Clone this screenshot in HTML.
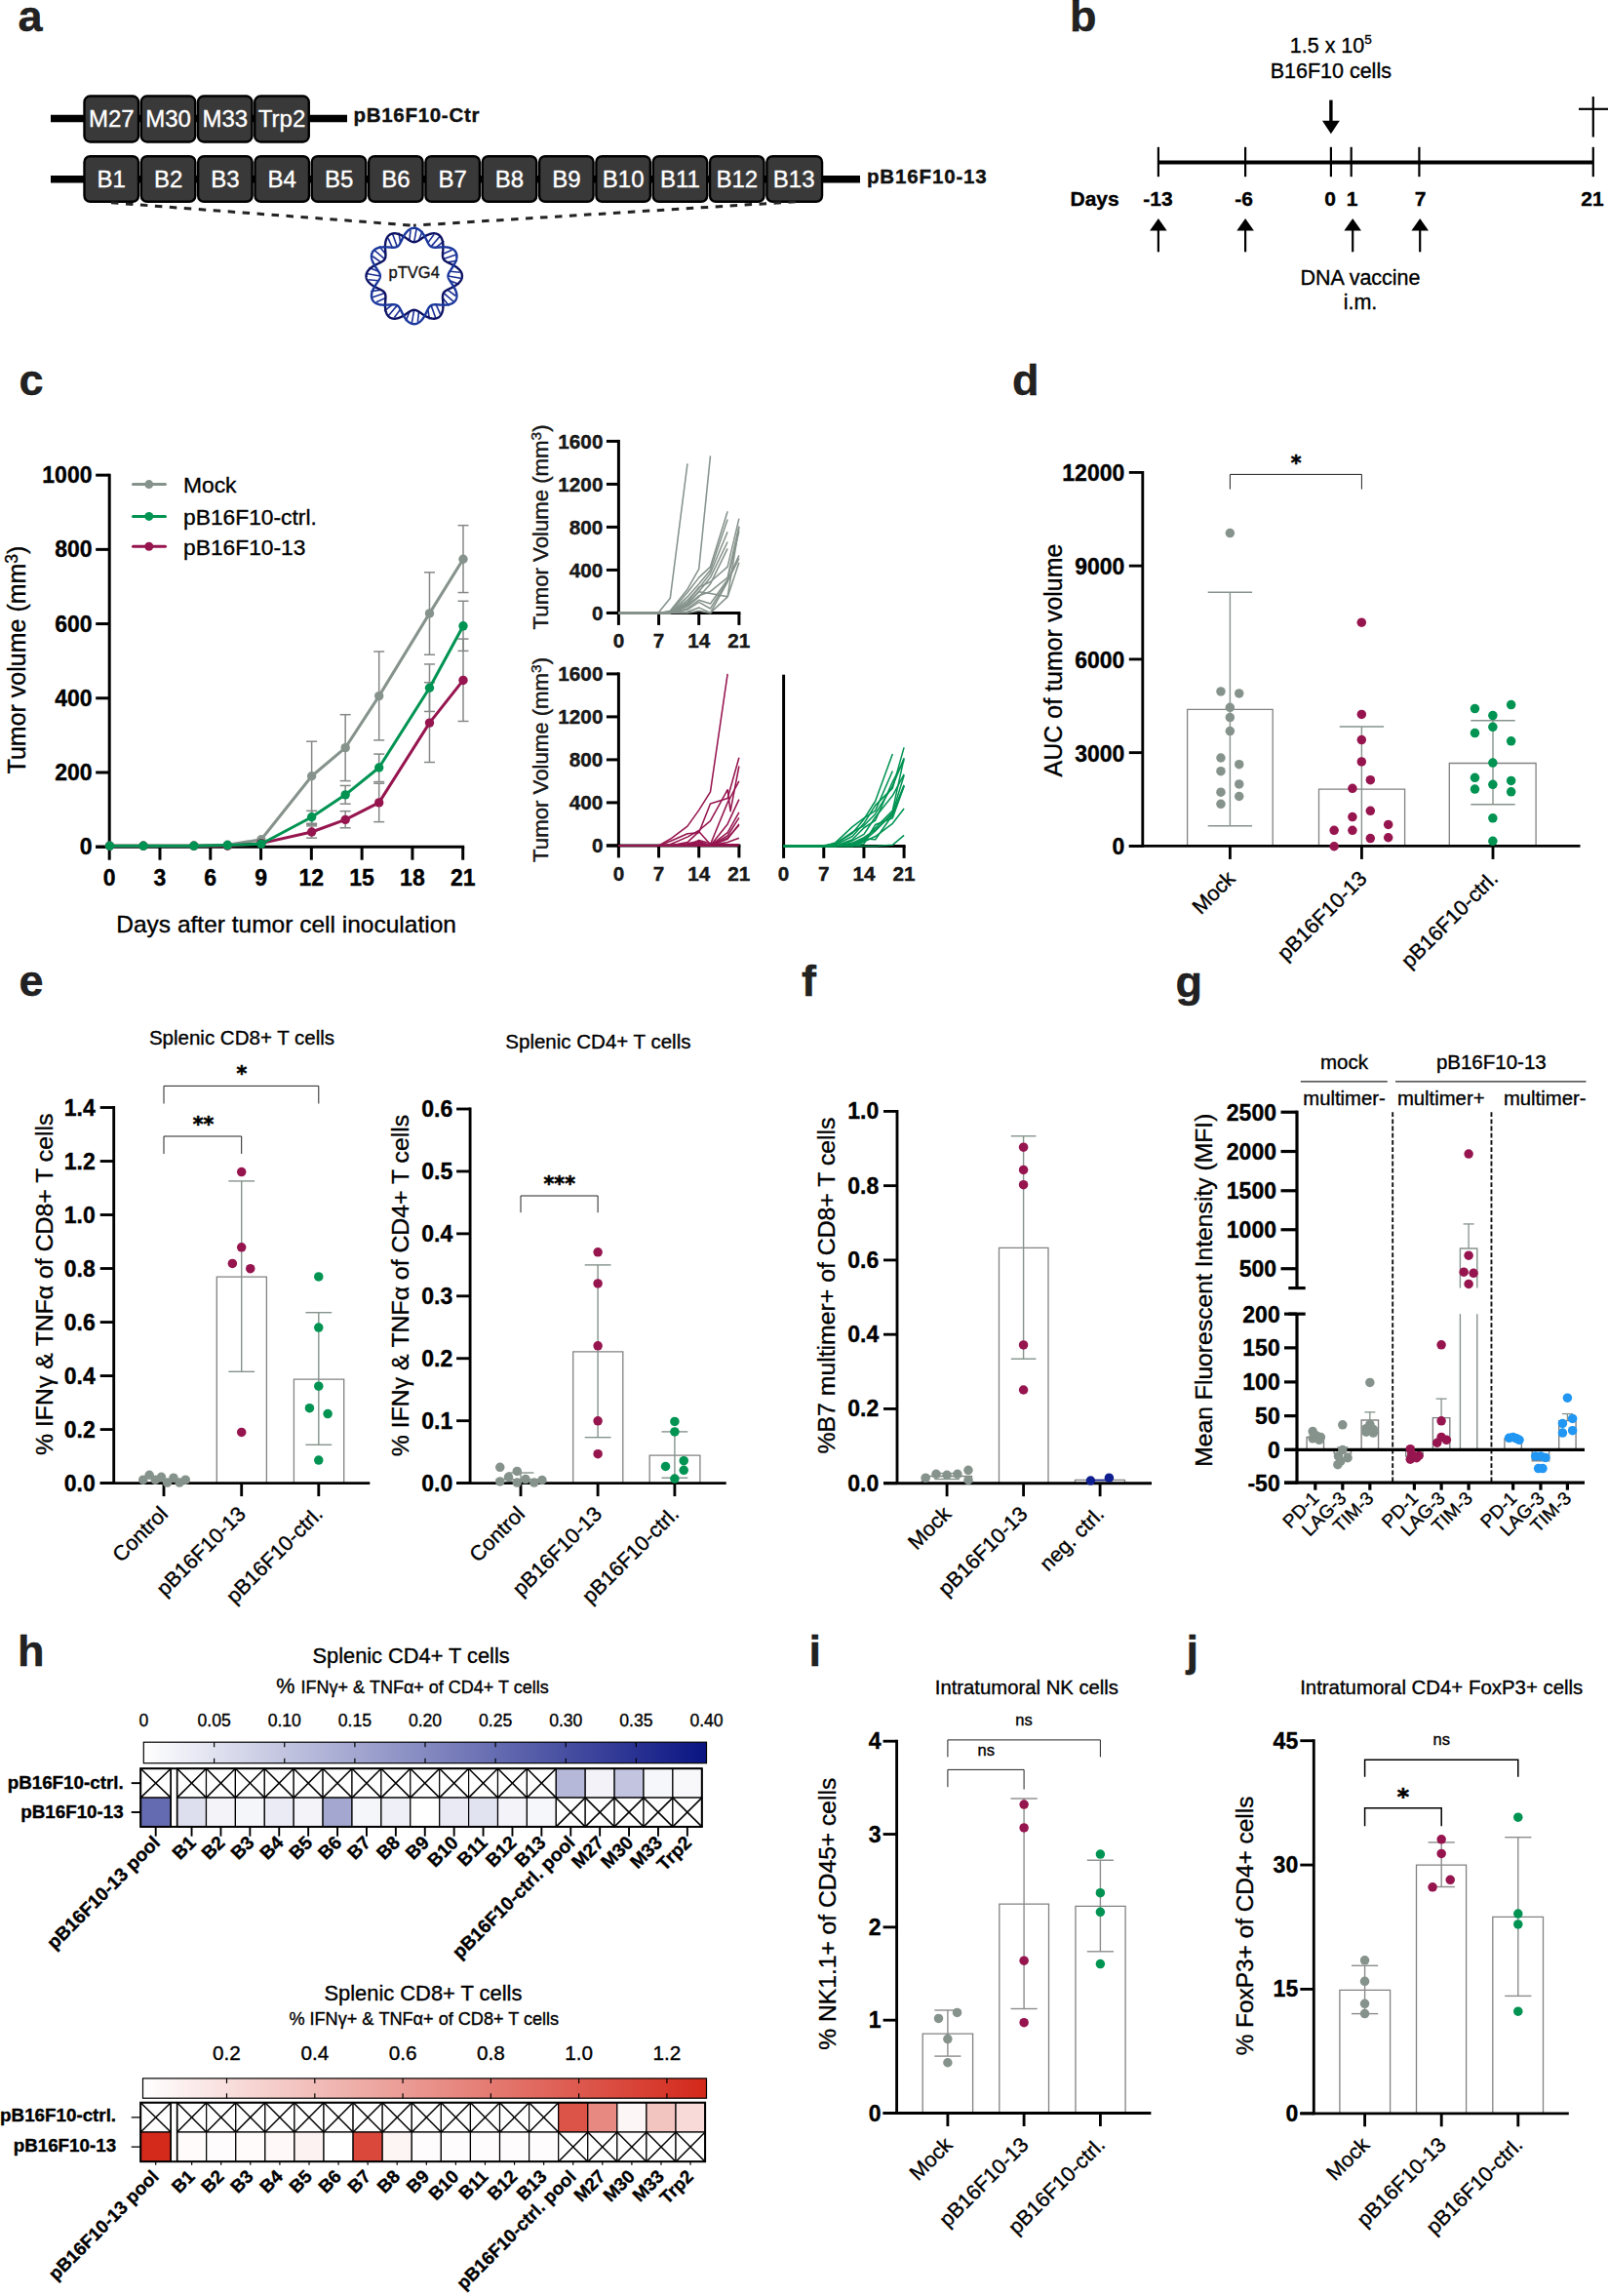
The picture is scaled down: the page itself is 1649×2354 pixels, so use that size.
<!DOCTYPE html>
<html lang="en"><head><meta charset="utf-8"><title>Figure</title>
<style>html,body{margin:0;padding:0;background:#fff}svg{display:block}text{font-family:'Liberation Sans', Arial, Helvetica, sans-serif;stroke:#000;stroke-width:.35px}text[fill="#fff"]{stroke:#fff}</style>
</head><body>
<svg width="1649" height="2354" viewBox="0 0 1649 2354">
<rect width="1649" height="2354" fill="#fff"/>
<text x="18.5" y="32.3" font-size="45" font-weight="bold" fill="#222" stroke="#222">a</text>
<line x1="52" y1="121.4" x2="356" y2="121.4" stroke="#000" stroke-width="7.5"/>
<line x1="52" y1="183.7" x2="882" y2="183.7" stroke="#000" stroke-width="7.5"/>
<rect x="86.5" y="98.5" width="55.5" height="47" fill="#393939" stroke="#000" stroke-width="2.4" rx="6"/>
<text x="114.3" y="130.4" font-size="24" text-anchor="middle" fill="#fff" stroke="#fff">M27</text>
<rect x="144.75" y="98.5" width="55.5" height="47" fill="#393939" stroke="#000" stroke-width="2.4" rx="6"/>
<text x="172.55" y="130.4" font-size="24" text-anchor="middle" fill="#fff" stroke="#fff">M30</text>
<rect x="203" y="98.5" width="55.5" height="47" fill="#393939" stroke="#000" stroke-width="2.4" rx="6"/>
<text x="230.8" y="130.4" font-size="24" text-anchor="middle" fill="#fff" stroke="#fff">M33</text>
<rect x="261.25" y="98.5" width="55.5" height="47" fill="#393939" stroke="#000" stroke-width="2.4" rx="6"/>
<text x="289.05" y="130.4" font-size="24" text-anchor="middle" fill="#fff" stroke="#fff">Trp2</text>
<text x="362.5" y="124.8" font-size="20.5" font-weight="bold" fill="#111" stroke="#111" letter-spacing="0.7">pB16F10-Ctr</text>
<rect x="86.5" y="160.2" width="55.5" height="46.6" fill="#393939" stroke="#000" stroke-width="2.4" rx="6"/>
<text x="114.3" y="192" font-size="24" text-anchor="middle" fill="#fff" stroke="#fff">B1</text>
<rect x="144.82" y="160.2" width="55.5" height="46.6" fill="#393939" stroke="#000" stroke-width="2.4" rx="6"/>
<text x="172.62" y="192" font-size="24" text-anchor="middle" fill="#fff" stroke="#fff">B2</text>
<rect x="203.14" y="160.2" width="55.5" height="46.6" fill="#393939" stroke="#000" stroke-width="2.4" rx="6"/>
<text x="230.94" y="192" font-size="24" text-anchor="middle" fill="#fff" stroke="#fff">B3</text>
<rect x="261.46" y="160.2" width="55.5" height="46.6" fill="#393939" stroke="#000" stroke-width="2.4" rx="6"/>
<text x="289.26" y="192" font-size="24" text-anchor="middle" fill="#fff" stroke="#fff">B4</text>
<rect x="319.78" y="160.2" width="55.5" height="46.6" fill="#393939" stroke="#000" stroke-width="2.4" rx="6"/>
<text x="347.58" y="192" font-size="24" text-anchor="middle" fill="#fff" stroke="#fff">B5</text>
<rect x="378.1" y="160.2" width="55.5" height="46.6" fill="#393939" stroke="#000" stroke-width="2.4" rx="6"/>
<text x="405.9" y="192" font-size="24" text-anchor="middle" fill="#fff" stroke="#fff">B6</text>
<rect x="436.42" y="160.2" width="55.5" height="46.6" fill="#393939" stroke="#000" stroke-width="2.4" rx="6"/>
<text x="464.22" y="192" font-size="24" text-anchor="middle" fill="#fff" stroke="#fff">B7</text>
<rect x="494.74" y="160.2" width="55.5" height="46.6" fill="#393939" stroke="#000" stroke-width="2.4" rx="6"/>
<text x="522.54" y="192" font-size="24" text-anchor="middle" fill="#fff" stroke="#fff">B8</text>
<rect x="553.06" y="160.2" width="55.5" height="46.6" fill="#393939" stroke="#000" stroke-width="2.4" rx="6"/>
<text x="580.86" y="192" font-size="24" text-anchor="middle" fill="#fff" stroke="#fff">B9</text>
<rect x="611.38" y="160.2" width="55.5" height="46.6" fill="#393939" stroke="#000" stroke-width="2.4" rx="6"/>
<text x="639.18" y="192" font-size="24" text-anchor="middle" fill="#fff" stroke="#fff">B10</text>
<rect x="669.7" y="160.2" width="55.5" height="46.6" fill="#393939" stroke="#000" stroke-width="2.4" rx="6"/>
<text x="697.5" y="192" font-size="24" text-anchor="middle" fill="#fff" stroke="#fff">B11</text>
<rect x="728.02" y="160.2" width="55.5" height="46.6" fill="#393939" stroke="#000" stroke-width="2.4" rx="6"/>
<text x="755.82" y="192" font-size="24" text-anchor="middle" fill="#fff" stroke="#fff">B12</text>
<rect x="786.34" y="160.2" width="56.7" height="46.6" fill="#393939" stroke="#000" stroke-width="2.4" rx="6"/>
<text x="814.14" y="192" font-size="24" text-anchor="middle" fill="#fff" stroke="#fff">B13</text>
<text x="889" y="187.8" font-size="20.5" font-weight="bold" fill="#111" stroke="#111" letter-spacing="0.85">pB16F10-13</text>
<line x1="114" y1="207.8" x2="424" y2="231.2" stroke="#222" stroke-width="3" stroke-dasharray="7.5 7.5"/>
<line x1="816" y1="206.8" x2="424" y2="231.2" stroke="#222" stroke-width="3" stroke-dasharray="7.5 7.5"/>
<line x1="421.01" y1="236.05" x2="419.88" y2="246.41" stroke="#1c2f94" stroke-width="1.6"/>
<line x1="427.27" y1="233.87" x2="424.7" y2="248.2" stroke="#1c2f94" stroke-width="1.6"/>
<line x1="433.28" y1="236.7" x2="429.52" y2="246.41" stroke="#1c2f94" stroke-width="1.6"/>
<line x1="444.97" y1="240.5" x2="438.82" y2="248.9" stroke="#1c2f94" stroke-width="1.6"/>
<line x1="451.5" y1="241.74" x2="442.1" y2="252.86" stroke="#1c2f94" stroke-width="1.6"/>
<line x1="455.28" y1="247.19" x2="447.17" y2="253.72" stroke="#1c2f94" stroke-width="1.6"/>
<line x1="463.51" y1="256.33" x2="453.98" y2="260.53" stroke="#1c2f94" stroke-width="1.6"/>
<line x1="468.54" y1="260.66" x2="454.84" y2="265.6" stroke="#1c2f94" stroke-width="1.6"/>
<line x1="469.09" y1="267.28" x2="458.8" y2="268.88" stroke="#1c2f94" stroke-width="1.6"/>
<line x1="471.65" y1="279.31" x2="461.29" y2="278.18" stroke="#1c2f94" stroke-width="1.6"/>
<line x1="473.83" y1="285.57" x2="459.5" y2="283" stroke="#1c2f94" stroke-width="1.6"/>
<line x1="471" y1="291.58" x2="461.29" y2="287.82" stroke="#1c2f94" stroke-width="1.6"/>
<line x1="467.2" y1="303.27" x2="458.8" y2="297.12" stroke="#1c2f94" stroke-width="1.6"/>
<line x1="465.96" y1="309.8" x2="454.84" y2="300.4" stroke="#1c2f94" stroke-width="1.6"/>
<line x1="460.51" y1="313.58" x2="453.98" y2="305.47" stroke="#1c2f94" stroke-width="1.6"/>
<line x1="451.37" y1="321.81" x2="447.17" y2="312.28" stroke="#1c2f94" stroke-width="1.6"/>
<line x1="447.04" y1="326.84" x2="442.1" y2="313.14" stroke="#1c2f94" stroke-width="1.6"/>
<line x1="440.42" y1="327.39" x2="438.82" y2="317.1" stroke="#1c2f94" stroke-width="1.6"/>
<line x1="428.39" y1="329.95" x2="429.52" y2="319.59" stroke="#1c2f94" stroke-width="1.6"/>
<line x1="422.13" y1="332.13" x2="424.7" y2="317.8" stroke="#1c2f94" stroke-width="1.6"/>
<line x1="416.12" y1="329.3" x2="419.88" y2="319.59" stroke="#1c2f94" stroke-width="1.6"/>
<line x1="404.43" y1="325.5" x2="410.58" y2="317.1" stroke="#1c2f94" stroke-width="1.6"/>
<line x1="397.9" y1="324.26" x2="407.3" y2="313.14" stroke="#1c2f94" stroke-width="1.6"/>
<line x1="394.12" y1="318.81" x2="402.23" y2="312.28" stroke="#1c2f94" stroke-width="1.6"/>
<line x1="385.89" y1="309.67" x2="395.42" y2="305.47" stroke="#1c2f94" stroke-width="1.6"/>
<line x1="380.86" y1="305.34" x2="394.56" y2="300.4" stroke="#1c2f94" stroke-width="1.6"/>
<line x1="380.31" y1="298.72" x2="390.6" y2="297.12" stroke="#1c2f94" stroke-width="1.6"/>
<line x1="377.75" y1="286.69" x2="388.11" y2="287.82" stroke="#1c2f94" stroke-width="1.6"/>
<line x1="375.57" y1="280.43" x2="389.9" y2="283" stroke="#1c2f94" stroke-width="1.6"/>
<line x1="378.4" y1="274.42" x2="388.11" y2="278.18" stroke="#1c2f94" stroke-width="1.6"/>
<line x1="382.2" y1="262.73" x2="390.6" y2="268.88" stroke="#1c2f94" stroke-width="1.6"/>
<line x1="383.44" y1="256.2" x2="394.56" y2="265.6" stroke="#1c2f94" stroke-width="1.6"/>
<line x1="388.89" y1="252.42" x2="395.42" y2="260.53" stroke="#1c2f94" stroke-width="1.6"/>
<line x1="398.03" y1="244.19" x2="402.23" y2="253.72" stroke="#1c2f94" stroke-width="1.6"/>
<line x1="402.36" y1="239.16" x2="407.3" y2="252.86" stroke="#1c2f94" stroke-width="1.6"/>
<line x1="408.98" y1="238.61" x2="410.58" y2="248.9" stroke="#1c2f94" stroke-width="1.6"/>
<path d="M473.9 283 L473.89 283.43 L473.85 283.86 L473.79 284.29 L473.71 284.71 L473.61 285.14 L473.48 285.56 L473.33 285.97 L473.16 286.39 L472.97 286.8 L472.75 287.2 L472.52 287.6 L472.26 288 L471.99 288.39 L471.7 288.77 L471.39 289.15 L471.06 289.52 L470.72 289.88 L470.36 290.23 L469.99 290.58 L469.61 290.92 L469.21 291.25 L468.8 291.57 L468.39 291.89 L467.96 292.19 L467.52 292.49 L467.08 292.78 L466.63 293.07 L466.18 293.34 L465.73 293.61 L465.27 293.87 L464.81 294.12 L464.35 294.37 L463.89 294.61 L463.43 294.84 L462.98 295.07 L462.53 295.29 L462.08 295.51 L461.64 295.72 L461.21 295.93 L460.78 296.13 L460.37 296.34 L459.96 296.53 L459.56 296.73 L459.17 296.93 L458.8 297.12 L458.44 297.32 L458.09 297.52 L457.75 297.71 L457.42 297.91 L457.11 298.11 L456.82 298.32 L456.54 298.53 L456.27 298.74 L456.02 298.96 L455.79 299.18 L455.57 299.41 L455.36 299.65 L455.17 299.89 L455 300.14 L454.84 300.4 L454.69 300.67 L454.56 300.94 L454.45 301.23 L454.35 301.52 L454.26 301.83 L454.18 302.15 L454.12 302.47 L454.07 302.81 L454.03 303.16 L454 303.51 L453.98 303.88 L453.97 304.26 L453.96 304.65 L453.97 305.06 L453.98 305.47 L454 305.89 L454.02 306.32 L454.05 306.77 L454.08 307.22 L454.12 307.68 L454.15 308.15 L454.19 308.63 L454.22 309.12 L454.26 309.61 L454.29 310.12 L454.32 310.62 L454.35 311.14 L454.37 311.65 L454.39 312.17 L454.4 312.7 L454.4 313.23 L454.4 313.75 L454.39 314.28 L454.36 314.81 L454.33 315.34 L454.29 315.87 L454.24 316.39 L454.18 316.91 L454.1 317.42 L454.01 317.93 L453.91 318.43 L453.79 318.93 L453.67 319.42 L453.52 319.89 L453.37 320.36 L453.2 320.82 L453.01 321.26 L452.81 321.69 L452.6 322.11 L452.37 322.51 L452.12 322.9 L451.86 323.27 L451.59 323.63 L451.3 323.97 L451 324.29 L450.69 324.59 L450.36 324.87 L450.02 325.14 L449.67 325.38 L449.3 325.61 L448.92 325.81 L448.53 326 L448.13 326.16 L447.72 326.3 L447.3 326.42 L446.88 326.52 L446.44 326.6 L445.99 326.66 L445.54 326.7 L445.09 326.72 L444.62 326.71 L444.15 326.69 L443.68 326.65 L443.2 326.59 L442.72 326.51 L442.24 326.41 L441.75 326.29 L441.27 326.16 L440.78 326.01 L440.3 325.85 L439.81 325.67 L439.33 325.48 L438.85 325.28 L438.37 325.06 L437.89 324.83 L437.42 324.6 L436.95 324.35 L436.48 324.1 L436.02 323.84 L435.57 323.57 L435.12 323.3 L434.68 323.02 L434.24 322.74 L433.81 322.46 L433.39 322.19 L432.97 321.91 L432.56 321.63 L432.16 321.35 L431.76 321.08 L431.37 320.82 L430.98 320.56 L430.61 320.3 L430.24 320.06 L429.87 319.82 L429.52 319.59 L429.17 319.38 L428.82 319.17 L428.48 318.98 L428.15 318.8 L427.82 318.63 L427.49 318.48 L427.17 318.34 L426.85 318.21 L426.54 318.1 L426.23 318.01 L425.92 317.94 L425.61 317.88 L425.31 317.83 L425 317.81 L424.7 317.8 L424.4 317.81 L424.09 317.83 L423.79 317.88 L423.48 317.94 L423.17 318.01 L422.86 318.1 L422.55 318.21 L422.23 318.34 L421.91 318.48 L421.58 318.63 L421.25 318.8 L420.92 318.98 L420.58 319.17 L420.23 319.38 L419.88 319.59 L419.53 319.82 L419.16 320.06 L418.79 320.3 L418.42 320.56 L418.03 320.82 L417.64 321.08 L417.24 321.35 L416.84 321.63 L416.43 321.91 L416.01 322.19 L415.59 322.46 L415.16 322.74 L414.72 323.02 L414.28 323.3 L413.83 323.57 L413.38 323.84 L412.92 324.1 L412.45 324.35 L411.98 324.6 L411.51 324.83 L411.03 325.06 L410.55 325.28 L410.07 325.48 L409.59 325.67 L409.1 325.85 L408.62 326.01 L408.13 326.16 L407.65 326.29 L407.16 326.41 L406.68 326.51 L406.2 326.59 L405.72 326.65 L405.25 326.69 L404.78 326.71 L404.31 326.72 L403.86 326.7 L403.41 326.66 L402.96 326.6 L402.52 326.52 L402.1 326.42 L401.68 326.3 L401.27 326.16 L400.87 326 L400.48 325.81 L400.1 325.61 L399.73 325.38 L399.38 325.14 L399.04 324.87 L398.71 324.59 L398.4 324.29 L398.1 323.97 L397.81 323.63 L397.54 323.27 L397.28 322.9 L397.03 322.51 L396.8 322.11 L396.59 321.69 L396.39 321.26 L396.2 320.82 L396.03 320.36 L395.88 319.89 L395.73 319.42 L395.61 318.93 L395.49 318.43 L395.39 317.93 L395.3 317.42 L395.22 316.91 L395.16 316.39 L395.11 315.87 L395.07 315.34 L395.04 314.81 L395.01 314.28 L395 313.75 L395 313.23 L395 312.7 L395.01 312.17 L395.03 311.65 L395.05 311.14 L395.08 310.62 L395.11 310.12 L395.14 309.61 L395.18 309.12 L395.21 308.63 L395.25 308.15 L395.28 307.68 L395.32 307.22 L395.35 306.77 L395.38 306.32 L395.4 305.89 L395.42 305.47 L395.43 305.06 L395.44 304.65 L395.43 304.26 L395.42 303.88 L395.4 303.51 L395.37 303.16 L395.33 302.81 L395.28 302.47 L395.22 302.15 L395.14 301.83 L395.05 301.52 L394.95 301.23 L394.84 300.94 L394.71 300.67 L394.56 300.4 L394.4 300.14 L394.23 299.89 L394.04 299.65 L393.83 299.41 L393.61 299.18 L393.38 298.96 L393.13 298.74 L392.86 298.53 L392.58 298.32 L392.29 298.11 L391.98 297.91 L391.65 297.71 L391.31 297.52 L390.96 297.32 L390.6 297.12 L390.23 296.93 L389.84 296.73 L389.44 296.53 L389.03 296.34 L388.62 296.13 L388.19 295.93 L387.76 295.72 L387.32 295.51 L386.87 295.29 L386.42 295.07 L385.97 294.84 L385.51 294.61 L385.05 294.37 L384.59 294.12 L384.13 293.87 L383.67 293.61 L383.22 293.34 L382.77 293.07 L382.32 292.78 L381.88 292.49 L381.44 292.19 L381.01 291.89 L380.6 291.57 L380.19 291.25 L379.79 290.92 L379.41 290.58 L379.04 290.23 L378.68 289.88 L378.34 289.52 L378.01 289.15 L377.7 288.77 L377.41 288.39 L377.14 288 L376.88 287.6 L376.65 287.2 L376.43 286.8 L376.24 286.39 L376.07 285.97 L375.92 285.56 L375.79 285.14 L375.69 284.71 L375.61 284.29 L375.55 283.86 L375.51 283.43 L375.5 283 L375.51 282.57 L375.55 282.14 L375.61 281.71 L375.69 281.29 L375.79 280.86 L375.92 280.44 L376.07 280.03 L376.24 279.61 L376.43 279.2 L376.65 278.8 L376.88 278.4 L377.14 278 L377.41 277.61 L377.7 277.23 L378.01 276.85 L378.34 276.48 L378.68 276.12 L379.04 275.77 L379.41 275.42 L379.79 275.08 L380.19 274.75 L380.6 274.43 L381.01 274.11 L381.44 273.81 L381.88 273.51 L382.32 273.22 L382.77 272.93 L383.22 272.66 L383.67 272.39 L384.13 272.13 L384.59 271.88 L385.05 271.63 L385.51 271.39 L385.97 271.16 L386.42 270.93 L386.87 270.71 L387.32 270.49 L387.76 270.28 L388.19 270.07 L388.62 269.87 L389.03 269.66 L389.44 269.47 L389.84 269.27 L390.23 269.07 L390.6 268.88 L390.96 268.68 L391.31 268.48 L391.65 268.29 L391.98 268.09 L392.29 267.89 L392.58 267.68 L392.86 267.47 L393.13 267.26 L393.38 267.04 L393.61 266.82 L393.83 266.59 L394.04 266.35 L394.23 266.11 L394.4 265.86 L394.56 265.6 L394.71 265.33 L394.84 265.06 L394.95 264.77 L395.05 264.48 L395.14 264.17 L395.22 263.85 L395.28 263.53 L395.33 263.19 L395.37 262.84 L395.4 262.49 L395.42 262.12 L395.43 261.74 L395.44 261.35 L395.43 260.94 L395.42 260.53 L395.4 260.11 L395.38 259.68 L395.35 259.23 L395.32 258.78 L395.28 258.32 L395.25 257.85 L395.21 257.37 L395.18 256.88 L395.14 256.39 L395.11 255.88 L395.08 255.38 L395.05 254.86 L395.03 254.35 L395.01 253.83 L395 253.3 L395 252.77 L395 252.25 L395.01 251.72 L395.04 251.19 L395.07 250.66 L395.11 250.13 L395.16 249.61 L395.22 249.09 L395.3 248.58 L395.39 248.07 L395.49 247.57 L395.61 247.07 L395.73 246.58 L395.88 246.11 L396.03 245.64 L396.2 245.18 L396.39 244.74 L396.59 244.31 L396.8 243.89 L397.03 243.49 L397.28 243.1 L397.54 242.73 L397.81 242.37 L398.1 242.03 L398.4 241.71 L398.71 241.41 L399.04 241.13 L399.38 240.86 L399.73 240.62 L400.1 240.39 L400.48 240.19 L400.87 240 L401.27 239.84 L401.68 239.7 L402.1 239.58 L402.52 239.48 L402.96 239.4 L403.41 239.34 L403.86 239.3 L404.31 239.28 L404.78 239.29 L405.25 239.31 L405.72 239.35 L406.2 239.41 L406.68 239.49 L407.16 239.59 L407.65 239.71 L408.13 239.84 L408.62 239.99 L409.1 240.15 L409.59 240.33 L410.07 240.52 L410.55 240.72 L411.03 240.94 L411.51 241.17 L411.98 241.4 L412.45 241.65 L412.92 241.9 L413.38 242.16 L413.83 242.43 L414.28 242.7 L414.72 242.98 L415.16 243.26 L415.59 243.54 L416.01 243.81 L416.43 244.09 L416.84 244.37 L417.24 244.65 L417.64 244.92 L418.03 245.18 L418.42 245.44 L418.79 245.7 L419.16 245.94 L419.53 246.18 L419.88 246.41 L420.23 246.62 L420.58 246.83 L420.92 247.02 L421.25 247.2 L421.58 247.37 L421.91 247.52 L422.23 247.66 L422.55 247.79 L422.86 247.9 L423.17 247.99 L423.48 248.06 L423.79 248.12 L424.09 248.17 L424.4 248.19 L424.7 248.2 L425 248.19 L425.31 248.17 L425.61 248.12 L425.92 248.06 L426.23 247.99 L426.54 247.9 L426.85 247.79 L427.17 247.66 L427.49 247.52 L427.82 247.37 L428.15 247.2 L428.48 247.02 L428.82 246.83 L429.17 246.62 L429.52 246.41 L429.87 246.18 L430.24 245.94 L430.61 245.7 L430.98 245.44 L431.37 245.18 L431.76 244.92 L432.16 244.65 L432.56 244.37 L432.97 244.09 L433.39 243.81 L433.81 243.54 L434.24 243.26 L434.68 242.98 L435.12 242.7 L435.57 242.43 L436.02 242.16 L436.48 241.9 L436.95 241.65 L437.42 241.4 L437.89 241.17 L438.37 240.94 L438.85 240.72 L439.33 240.52 L439.81 240.33 L440.3 240.15 L440.78 239.99 L441.27 239.84 L441.75 239.71 L442.24 239.59 L442.72 239.49 L443.2 239.41 L443.68 239.35 L444.15 239.31 L444.62 239.29 L445.09 239.28 L445.54 239.3 L445.99 239.34 L446.44 239.4 L446.88 239.48 L447.3 239.58 L447.72 239.7 L448.13 239.84 L448.53 240 L448.92 240.19 L449.3 240.39 L449.67 240.62 L450.02 240.86 L450.36 241.13 L450.69 241.41 L451 241.71 L451.3 242.03 L451.59 242.37 L451.86 242.73 L452.12 243.1 L452.37 243.49 L452.6 243.89 L452.81 244.31 L453.01 244.74 L453.2 245.18 L453.37 245.64 L453.52 246.11 L453.67 246.58 L453.79 247.07 L453.91 247.57 L454.01 248.07 L454.1 248.58 L454.18 249.09 L454.24 249.61 L454.29 250.13 L454.33 250.66 L454.36 251.19 L454.39 251.72 L454.4 252.25 L454.4 252.77 L454.4 253.3 L454.39 253.83 L454.37 254.35 L454.35 254.86 L454.32 255.38 L454.29 255.88 L454.26 256.39 L454.22 256.88 L454.19 257.37 L454.15 257.85 L454.12 258.32 L454.08 258.78 L454.05 259.23 L454.02 259.68 L454 260.11 L453.98 260.53 L453.97 260.94 L453.96 261.35 L453.97 261.74 L453.98 262.12 L454 262.49 L454.03 262.84 L454.07 263.19 L454.12 263.53 L454.18 263.85 L454.26 264.17 L454.35 264.48 L454.45 264.77 L454.56 265.06 L454.69 265.33 L454.84 265.6 L455 265.86 L455.17 266.11 L455.36 266.35 L455.57 266.59 L455.79 266.82 L456.02 267.04 L456.27 267.26 L456.54 267.47 L456.82 267.68 L457.11 267.89 L457.42 268.09 L457.75 268.29 L458.09 268.48 L458.44 268.68 L458.8 268.88 L459.17 269.07 L459.56 269.27 L459.96 269.47 L460.37 269.66 L460.78 269.87 L461.21 270.07 L461.64 270.28 L462.08 270.49 L462.53 270.71 L462.98 270.93 L463.43 271.16 L463.89 271.39 L464.35 271.63 L464.81 271.88 L465.27 272.13 L465.73 272.39 L466.18 272.66 L466.63 272.93 L467.08 273.22 L467.52 273.51 L467.96 273.81 L468.39 274.11 L468.8 274.43 L469.21 274.75 L469.61 275.08 L469.99 275.42 L470.36 275.77 L470.72 276.12 L471.06 276.48 L471.39 276.85 L471.7 277.23 L471.99 277.61 L472.26 278 L472.52 278.4 L472.75 278.8 L472.97 279.2 L473.16 279.61 L473.33 280.03 L473.48 280.44 L473.61 280.86 L473.71 281.29 L473.79 281.71 L473.85 282.14 L473.89 282.57 L473.9 283 Z" fill="none" stroke="#0d1263" stroke-width="2.4" stroke-linejoin="round"/>
<path d="M459.5 283 L459.51 283.3 L459.53 283.61 L459.58 283.91 L459.64 284.22 L459.71 284.53 L459.8 284.84 L459.91 285.15 L460.04 285.47 L460.18 285.79 L460.33 286.12 L460.5 286.45 L460.68 286.78 L460.87 287.12 L461.08 287.47 L461.29 287.82 L461.52 288.17 L461.76 288.54 L462 288.91 L462.26 289.28 L462.52 289.67 L462.78 290.06 L463.05 290.46 L463.33 290.86 L463.61 291.27 L463.89 291.69 L464.16 292.11 L464.44 292.54 L464.72 292.98 L465 293.42 L465.27 293.87 L465.54 294.32 L465.8 294.78 L466.05 295.25 L466.3 295.72 L466.53 296.19 L466.76 296.67 L466.98 297.15 L467.18 297.63 L467.37 298.11 L467.55 298.6 L467.71 299.08 L467.86 299.57 L467.99 300.05 L468.11 300.54 L468.21 301.02 L468.29 301.5 L468.35 301.98 L468.39 302.45 L468.41 302.92 L468.42 303.39 L468.4 303.84 L468.36 304.29 L468.3 304.74 L468.22 305.18 L468.12 305.6 L468 306.02 L467.86 306.43 L467.7 306.83 L467.51 307.22 L467.31 307.6 L467.08 307.97 L466.84 308.32 L466.57 308.66 L466.29 308.99 L465.99 309.3 L465.67 309.6 L465.33 309.89 L464.97 310.16 L464.6 310.42 L464.21 310.67 L463.81 310.9 L463.39 311.11 L462.96 311.31 L462.52 311.5 L462.06 311.67 L461.59 311.82 L461.12 311.97 L460.63 312.09 L460.13 312.21 L459.63 312.31 L459.12 312.4 L458.61 312.48 L458.09 312.54 L457.57 312.59 L457.04 312.63 L456.51 312.66 L455.98 312.69 L455.45 312.7 L454.93 312.7 L454.4 312.7 L453.87 312.69 L453.35 312.67 L452.84 312.65 L452.32 312.62 L451.82 312.59 L451.31 312.56 L450.82 312.52 L450.33 312.49 L449.85 312.45 L449.38 312.42 L448.92 312.38 L448.47 312.35 L448.02 312.32 L447.59 312.3 L447.17 312.28 L446.76 312.27 L446.35 312.26 L445.96 312.27 L445.58 312.28 L445.21 312.3 L444.86 312.33 L444.51 312.37 L444.17 312.42 L443.85 312.48 L443.53 312.56 L443.22 312.65 L442.93 312.75 L442.64 312.86 L442.37 312.99 L442.1 313.14 L441.84 313.3 L441.59 313.47 L441.35 313.66 L441.11 313.87 L440.88 314.09 L440.66 314.32 L440.44 314.57 L440.23 314.84 L440.02 315.12 L439.81 315.41 L439.61 315.72 L439.41 316.05 L439.22 316.39 L439.02 316.74 L438.82 317.1 L438.63 317.47 L438.43 317.86 L438.23 318.26 L438.04 318.67 L437.83 319.08 L437.63 319.51 L437.42 319.94 L437.21 320.38 L436.99 320.83 L436.77 321.28 L436.54 321.73 L436.31 322.19 L436.07 322.65 L435.82 323.11 L435.57 323.57 L435.31 324.03 L435.04 324.48 L434.77 324.93 L434.48 325.38 L434.19 325.82 L433.89 326.26 L433.59 326.69 L433.27 327.1 L432.95 327.51 L432.62 327.91 L432.28 328.29 L431.93 328.66 L431.58 329.02 L431.22 329.36 L430.85 329.69 L430.47 330 L430.09 330.29 L429.7 330.56 L429.3 330.82 L428.9 331.05 L428.5 331.27 L428.09 331.46 L427.67 331.63 L427.26 331.78 L426.84 331.91 L426.41 332.01 L425.99 332.09 L425.56 332.15 L425.13 332.19 L424.7 332.2 L424.27 332.19 L423.84 332.15 L423.41 332.09 L422.99 332.01 L422.56 331.91 L422.14 331.78 L421.73 331.63 L421.31 331.46 L420.9 331.27 L420.5 331.05 L420.1 330.82 L419.7 330.56 L419.31 330.29 L418.93 330 L418.55 329.69 L418.18 329.36 L417.82 329.02 L417.47 328.66 L417.12 328.29 L416.78 327.91 L416.45 327.51 L416.13 327.1 L415.81 326.69 L415.51 326.26 L415.21 325.82 L414.92 325.38 L414.63 324.93 L414.36 324.48 L414.09 324.03 L413.83 323.57 L413.58 323.11 L413.33 322.65 L413.09 322.19 L412.86 321.73 L412.63 321.28 L412.41 320.83 L412.19 320.38 L411.98 319.94 L411.77 319.51 L411.57 319.08 L411.36 318.67 L411.17 318.26 L410.97 317.86 L410.77 317.47 L410.58 317.1 L410.38 316.74 L410.18 316.39 L409.99 316.05 L409.79 315.72 L409.59 315.41 L409.38 315.12 L409.17 314.84 L408.96 314.57 L408.74 314.32 L408.52 314.09 L408.29 313.87 L408.05 313.66 L407.81 313.47 L407.56 313.3 L407.3 313.14 L407.03 312.99 L406.76 312.86 L406.47 312.75 L406.18 312.65 L405.87 312.56 L405.55 312.48 L405.23 312.42 L404.89 312.37 L404.54 312.33 L404.19 312.3 L403.82 312.28 L403.44 312.27 L403.05 312.26 L402.64 312.27 L402.23 312.28 L401.81 312.3 L401.38 312.32 L400.93 312.35 L400.48 312.38 L400.02 312.42 L399.55 312.45 L399.07 312.49 L398.58 312.52 L398.09 312.56 L397.58 312.59 L397.08 312.62 L396.56 312.65 L396.05 312.67 L395.53 312.69 L395 312.7 L394.47 312.7 L393.95 312.7 L393.42 312.69 L392.89 312.66 L392.36 312.63 L391.83 312.59 L391.31 312.54 L390.79 312.48 L390.28 312.4 L389.77 312.31 L389.27 312.21 L388.77 312.09 L388.28 311.97 L387.81 311.82 L387.34 311.67 L386.88 311.5 L386.44 311.31 L386.01 311.11 L385.59 310.9 L385.19 310.67 L384.8 310.42 L384.43 310.16 L384.07 309.89 L383.73 309.6 L383.41 309.3 L383.11 308.99 L382.83 308.66 L382.56 308.32 L382.32 307.97 L382.09 307.6 L381.89 307.22 L381.7 306.83 L381.54 306.43 L381.4 306.02 L381.28 305.6 L381.18 305.18 L381.1 304.74 L381.04 304.29 L381 303.84 L380.98 303.39 L380.99 302.92 L381.01 302.45 L381.05 301.98 L381.11 301.5 L381.19 301.02 L381.29 300.54 L381.41 300.05 L381.54 299.57 L381.69 299.08 L381.85 298.6 L382.03 298.11 L382.22 297.63 L382.42 297.15 L382.64 296.67 L382.87 296.19 L383.1 295.72 L383.35 295.25 L383.6 294.78 L383.86 294.32 L384.13 293.87 L384.4 293.42 L384.68 292.98 L384.96 292.54 L385.24 292.11 L385.51 291.69 L385.79 291.27 L386.07 290.86 L386.35 290.46 L386.62 290.06 L386.88 289.67 L387.14 289.28 L387.4 288.91 L387.64 288.54 L387.88 288.17 L388.11 287.82 L388.32 287.47 L388.53 287.12 L388.72 286.78 L388.9 286.45 L389.07 286.12 L389.22 285.79 L389.36 285.47 L389.49 285.15 L389.6 284.84 L389.69 284.53 L389.76 284.22 L389.82 283.91 L389.87 283.61 L389.89 283.3 L389.9 283 L389.89 282.7 L389.87 282.39 L389.82 282.09 L389.76 281.78 L389.69 281.47 L389.6 281.16 L389.49 280.85 L389.36 280.53 L389.22 280.21 L389.07 279.88 L388.9 279.55 L388.72 279.22 L388.53 278.88 L388.32 278.53 L388.11 278.18 L387.88 277.83 L387.64 277.46 L387.4 277.09 L387.14 276.72 L386.88 276.33 L386.62 275.94 L386.35 275.54 L386.07 275.14 L385.79 274.73 L385.51 274.31 L385.24 273.89 L384.96 273.46 L384.68 273.02 L384.4 272.58 L384.13 272.13 L383.86 271.68 L383.6 271.22 L383.35 270.75 L383.1 270.28 L382.87 269.81 L382.64 269.33 L382.42 268.85 L382.22 268.37 L382.03 267.89 L381.85 267.4 L381.69 266.92 L381.54 266.43 L381.41 265.95 L381.29 265.46 L381.19 264.98 L381.11 264.5 L381.05 264.02 L381.01 263.55 L380.99 263.08 L380.98 262.61 L381 262.16 L381.04 261.71 L381.1 261.26 L381.18 260.82 L381.28 260.4 L381.4 259.98 L381.54 259.57 L381.7 259.17 L381.89 258.78 L382.09 258.4 L382.32 258.03 L382.56 257.68 L382.83 257.34 L383.11 257.01 L383.41 256.7 L383.73 256.4 L384.07 256.11 L384.43 255.84 L384.8 255.58 L385.19 255.33 L385.59 255.1 L386.01 254.89 L386.44 254.69 L386.88 254.5 L387.34 254.33 L387.81 254.18 L388.28 254.03 L388.77 253.91 L389.27 253.79 L389.77 253.69 L390.28 253.6 L390.79 253.52 L391.31 253.46 L391.83 253.41 L392.36 253.37 L392.89 253.34 L393.42 253.31 L393.95 253.3 L394.47 253.3 L395 253.3 L395.53 253.31 L396.05 253.33 L396.56 253.35 L397.08 253.38 L397.58 253.41 L398.09 253.44 L398.58 253.48 L399.07 253.51 L399.55 253.55 L400.02 253.58 L400.48 253.62 L400.93 253.65 L401.38 253.68 L401.81 253.7 L402.23 253.72 L402.64 253.73 L403.05 253.74 L403.44 253.73 L403.82 253.72 L404.19 253.7 L404.54 253.67 L404.89 253.63 L405.23 253.58 L405.55 253.52 L405.87 253.44 L406.18 253.35 L406.47 253.25 L406.76 253.14 L407.03 253.01 L407.3 252.86 L407.56 252.7 L407.81 252.53 L408.05 252.34 L408.29 252.13 L408.52 251.91 L408.74 251.68 L408.96 251.43 L409.17 251.16 L409.38 250.88 L409.59 250.59 L409.79 250.28 L409.99 249.95 L410.18 249.61 L410.38 249.26 L410.58 248.9 L410.77 248.53 L410.97 248.14 L411.17 247.74 L411.36 247.33 L411.57 246.92 L411.77 246.49 L411.98 246.06 L412.19 245.62 L412.41 245.17 L412.63 244.72 L412.86 244.27 L413.09 243.81 L413.33 243.35 L413.58 242.89 L413.83 242.43 L414.09 241.97 L414.36 241.52 L414.63 241.07 L414.92 240.62 L415.21 240.18 L415.51 239.74 L415.81 239.31 L416.13 238.9 L416.45 238.49 L416.78 238.09 L417.12 237.71 L417.47 237.34 L417.82 236.98 L418.18 236.64 L418.55 236.31 L418.93 236 L419.31 235.71 L419.7 235.44 L420.1 235.18 L420.5 234.95 L420.9 234.73 L421.31 234.54 L421.73 234.37 L422.14 234.22 L422.56 234.09 L422.99 233.99 L423.41 233.91 L423.84 233.85 L424.27 233.81 L424.7 233.8 L425.13 233.81 L425.56 233.85 L425.99 233.91 L426.41 233.99 L426.84 234.09 L427.26 234.22 L427.67 234.37 L428.09 234.54 L428.5 234.73 L428.9 234.95 L429.3 235.18 L429.7 235.44 L430.09 235.71 L430.47 236 L430.85 236.31 L431.22 236.64 L431.58 236.98 L431.93 237.34 L432.28 237.71 L432.62 238.09 L432.95 238.49 L433.27 238.9 L433.59 239.31 L433.89 239.74 L434.19 240.18 L434.48 240.62 L434.77 241.07 L435.04 241.52 L435.31 241.97 L435.57 242.43 L435.82 242.89 L436.07 243.35 L436.31 243.81 L436.54 244.27 L436.77 244.72 L436.99 245.17 L437.21 245.62 L437.42 246.06 L437.63 246.49 L437.83 246.92 L438.04 247.33 L438.23 247.74 L438.43 248.14 L438.63 248.53 L438.82 248.9 L439.02 249.26 L439.22 249.61 L439.41 249.95 L439.61 250.28 L439.81 250.59 L440.02 250.88 L440.23 251.16 L440.44 251.43 L440.66 251.68 L440.88 251.91 L441.11 252.13 L441.35 252.34 L441.59 252.53 L441.84 252.7 L442.1 252.86 L442.37 253.01 L442.64 253.14 L442.93 253.25 L443.22 253.35 L443.53 253.44 L443.85 253.52 L444.17 253.58 L444.51 253.63 L444.86 253.67 L445.21 253.7 L445.58 253.72 L445.96 253.73 L446.35 253.74 L446.76 253.73 L447.17 253.72 L447.59 253.7 L448.02 253.68 L448.47 253.65 L448.92 253.62 L449.38 253.58 L449.85 253.55 L450.33 253.51 L450.82 253.48 L451.31 253.44 L451.82 253.41 L452.32 253.38 L452.84 253.35 L453.35 253.33 L453.87 253.31 L454.4 253.3 L454.93 253.3 L455.45 253.3 L455.98 253.31 L456.51 253.34 L457.04 253.37 L457.57 253.41 L458.09 253.46 L458.61 253.52 L459.12 253.6 L459.63 253.69 L460.13 253.79 L460.63 253.91 L461.12 254.03 L461.59 254.18 L462.06 254.33 L462.52 254.5 L462.96 254.69 L463.39 254.89 L463.81 255.1 L464.21 255.33 L464.6 255.58 L464.97 255.84 L465.33 256.11 L465.67 256.4 L465.99 256.7 L466.29 257.01 L466.57 257.34 L466.84 257.68 L467.08 258.03 L467.31 258.4 L467.51 258.78 L467.7 259.17 L467.86 259.57 L468 259.98 L468.12 260.4 L468.22 260.82 L468.3 261.26 L468.36 261.71 L468.4 262.16 L468.42 262.61 L468.41 263.08 L468.39 263.55 L468.35 264.02 L468.29 264.5 L468.21 264.98 L468.11 265.46 L467.99 265.95 L467.86 266.43 L467.71 266.92 L467.55 267.4 L467.37 267.89 L467.18 268.37 L466.98 268.85 L466.76 269.33 L466.53 269.81 L466.3 270.28 L466.05 270.75 L465.8 271.22 L465.54 271.68 L465.27 272.13 L465 272.58 L464.72 273.02 L464.44 273.46 L464.16 273.89 L463.89 274.31 L463.61 274.73 L463.33 275.14 L463.05 275.54 L462.78 275.94 L462.52 276.33 L462.26 276.72 L462 277.09 L461.76 277.46 L461.52 277.83 L461.29 278.18 L461.08 278.53 L460.87 278.88 L460.68 279.22 L460.5 279.55 L460.33 279.88 L460.18 280.21 L460.04 280.53 L459.91 280.85 L459.8 281.16 L459.71 281.47 L459.64 281.78 L459.58 282.09 L459.53 282.39 L459.51 282.7 L459.5 283 Z" fill="none" stroke="#1a379c" stroke-width="2.4" stroke-linejoin="round"/>
<text x="424.7" y="284.7" font-size="16.5" text-anchor="middle" fill="#1a1a1a" stroke="#1a1a1a">pTVG4</text>
<text x="1097" y="32.3" font-size="45" font-weight="bold" fill="#222" stroke="#222">b</text>
<text x="1364.8" y="53.8" font-size="21.5" text-anchor="middle">1.5 x 10<tspan font-size="13.5" dy="-8.5">5</tspan></text>
<text x="1364.8" y="80.3" font-size="21.5" text-anchor="middle">B16F10 cells</text>
<line x1="1364.9" y1="102.6" x2="1364.9" y2="126" stroke="#000" stroke-width="3.4"/>
<path d="M1364.9 137.3 L1356 123.8 L1373.8 123.8 Z" fill="#000" stroke="none" stroke-width="0" stroke-linejoin="round"/>
<line x1="1187.9" y1="166.5" x2="1633.8" y2="166.5" stroke="#000" stroke-width="4"/>
<line x1="1187.9" y1="150.8" x2="1187.9" y2="181.2" stroke="#000" stroke-width="2.2"/>
<line x1="1277.1" y1="150.8" x2="1277.1" y2="181.2" stroke="#000" stroke-width="2.2"/>
<line x1="1364.9" y1="150.8" x2="1364.9" y2="181.2" stroke="#000" stroke-width="2.2"/>
<line x1="1385.7" y1="150.8" x2="1385.7" y2="181.2" stroke="#000" stroke-width="2.2"/>
<line x1="1455.4" y1="150.8" x2="1455.4" y2="181.2" stroke="#000" stroke-width="2.2"/>
<line x1="1633.8" y1="150.8" x2="1633.8" y2="181.2" stroke="#000" stroke-width="2.2"/>
<line x1="1633.8" y1="99" x2="1633.8" y2="140.5" stroke="#000" stroke-width="2.2"/>
<line x1="1619" y1="111.8" x2="1649" y2="111.8" stroke="#000" stroke-width="2.2"/>
<text x="1097.5" y="211.3" font-size="21" font-weight="bold">Days</text>
<text x="1187.5" y="211.3" font-size="21" text-anchor="middle" font-weight="bold">-13</text>
<text x="1275.5" y="211.3" font-size="21" text-anchor="middle" font-weight="bold">-6</text>
<text x="1364" y="211.3" font-size="21" text-anchor="middle" font-weight="bold">0</text>
<text x="1386.5" y="211.3" font-size="21" text-anchor="middle" font-weight="bold">1</text>
<text x="1456.5" y="211.3" font-size="21" text-anchor="middle" font-weight="bold">7</text>
<text x="1633" y="211.3" font-size="21" text-anchor="middle" font-weight="bold">21</text>
<line x1="1187.9" y1="258.3" x2="1187.9" y2="235.4" stroke="#000" stroke-width="2.2"/>
<path d="M1187.9 224 L1179.1 236.4 L1196.7 236.4 Z" fill="#000" stroke="none" stroke-width="0" stroke-linejoin="round"/>
<line x1="1277.1" y1="258.3" x2="1277.1" y2="235.4" stroke="#000" stroke-width="2.2"/>
<path d="M1277.1 224 L1268.3 236.4 L1285.9 236.4 Z" fill="#000" stroke="none" stroke-width="0" stroke-linejoin="round"/>
<line x1="1387.2" y1="258.3" x2="1387.2" y2="235.4" stroke="#000" stroke-width="2.2"/>
<path d="M1387.2 224 L1378.4 236.4 L1396 236.4 Z" fill="#000" stroke="none" stroke-width="0" stroke-linejoin="round"/>
<line x1="1456.2" y1="258.3" x2="1456.2" y2="235.4" stroke="#000" stroke-width="2.2"/>
<path d="M1456.2 224 L1447.4 236.4 L1465 236.4 Z" fill="#000" stroke="none" stroke-width="0" stroke-linejoin="round"/>
<text x="1395" y="292" font-size="21.5" text-anchor="middle">DNA vaccine</text>
<text x="1395" y="317.4" font-size="21.5" text-anchor="middle">i.m.</text>
<text x="19.5" y="405.2" font-size="45" font-weight="bold" fill="#222" stroke="#222">c</text>
<line x1="112.2" y1="485.65" x2="112.2" y2="869.7" stroke="#000" stroke-width="3"/>
<line x1="98.2" y1="868.2" x2="476.2" y2="868.2" stroke="#000" stroke-width="3"/>
<line x1="98.2" y1="868.2" x2="112.2" y2="868.2" stroke="#000" stroke-width="3"/>
<text x="94.5" y="876.2" font-size="23" text-anchor="end" font-weight="bold">0</text>
<line x1="98.2" y1="791.99" x2="112.2" y2="791.99" stroke="#000" stroke-width="3"/>
<text x="94.5" y="799.99" font-size="23" text-anchor="end" font-weight="bold">200</text>
<line x1="98.2" y1="715.78" x2="112.2" y2="715.78" stroke="#000" stroke-width="3"/>
<text x="94.5" y="723.78" font-size="23" text-anchor="end" font-weight="bold">400</text>
<line x1="98.2" y1="639.57" x2="112.2" y2="639.57" stroke="#000" stroke-width="3"/>
<text x="94.5" y="647.57" font-size="23" text-anchor="end" font-weight="bold">600</text>
<line x1="98.2" y1="563.36" x2="112.2" y2="563.36" stroke="#000" stroke-width="3"/>
<text x="94.5" y="571.36" font-size="23" text-anchor="end" font-weight="bold">800</text>
<line x1="98.2" y1="487.15" x2="112.2" y2="487.15" stroke="#000" stroke-width="3"/>
<text x="94.5" y="495.15" font-size="23" text-anchor="end" font-weight="bold">1000</text>
<line x1="112.2" y1="868.2" x2="112.2" y2="881.7" stroke="#000" stroke-width="3"/>
<text x="112.2" y="907.5" font-size="23" text-anchor="middle" font-weight="bold">0</text>
<line x1="163.99" y1="868.2" x2="163.99" y2="881.7" stroke="#000" stroke-width="3"/>
<text x="163.99" y="907.5" font-size="23" text-anchor="middle" font-weight="bold">3</text>
<line x1="215.77" y1="868.2" x2="215.77" y2="881.7" stroke="#000" stroke-width="3"/>
<text x="215.77" y="907.5" font-size="23" text-anchor="middle" font-weight="bold">6</text>
<line x1="267.56" y1="868.2" x2="267.56" y2="881.7" stroke="#000" stroke-width="3"/>
<text x="267.56" y="907.5" font-size="23" text-anchor="middle" font-weight="bold">9</text>
<line x1="319.34" y1="868.2" x2="319.34" y2="881.7" stroke="#000" stroke-width="3"/>
<text x="319.34" y="907.5" font-size="23" text-anchor="middle" font-weight="bold">12</text>
<line x1="371.13" y1="868.2" x2="371.13" y2="881.7" stroke="#000" stroke-width="3"/>
<text x="371.13" y="907.5" font-size="23" text-anchor="middle" font-weight="bold">15</text>
<line x1="422.92" y1="868.2" x2="422.92" y2="881.7" stroke="#000" stroke-width="3"/>
<text x="422.92" y="907.5" font-size="23" text-anchor="middle" font-weight="bold">18</text>
<line x1="474.7" y1="868.2" x2="474.7" y2="881.7" stroke="#000" stroke-width="3"/>
<text x="474.7" y="907.5" font-size="23" text-anchor="middle" font-weight="bold">21</text>
<line x1="319.64" y1="760.18" x2="319.64" y2="845.23" stroke="#858886" stroke-width="1.5"/>
<line x1="314.14" y1="760.18" x2="325.14" y2="760.18" stroke="#858886" stroke-width="1.5"/>
<line x1="314.14" y1="845.23" x2="325.14" y2="845.23" stroke="#858886" stroke-width="1.5"/>
<line x1="354.17" y1="732.69" x2="354.17" y2="800.6" stroke="#858886" stroke-width="1.5"/>
<line x1="348.67" y1="732.69" x2="359.67" y2="732.69" stroke="#858886" stroke-width="1.5"/>
<line x1="348.67" y1="800.6" x2="359.67" y2="800.6" stroke="#858886" stroke-width="1.5"/>
<line x1="388.69" y1="668.01" x2="388.69" y2="758.88" stroke="#858886" stroke-width="1.5"/>
<line x1="383.19" y1="668.01" x2="394.19" y2="668.01" stroke="#858886" stroke-width="1.5"/>
<line x1="383.19" y1="758.88" x2="394.19" y2="758.88" stroke="#858886" stroke-width="1.5"/>
<line x1="440.48" y1="586.84" x2="440.48" y2="671.25" stroke="#858886" stroke-width="1.5"/>
<line x1="434.98" y1="586.84" x2="445.98" y2="586.84" stroke="#858886" stroke-width="1.5"/>
<line x1="434.98" y1="671.25" x2="445.98" y2="671.25" stroke="#858886" stroke-width="1.5"/>
<line x1="475" y1="538.66" x2="475" y2="607.54" stroke="#858886" stroke-width="1.5"/>
<line x1="469.5" y1="538.66" x2="480.5" y2="538.66" stroke="#858886" stroke-width="1.5"/>
<line x1="469.5" y1="607.54" x2="480.5" y2="607.54" stroke="#858886" stroke-width="1.5"/>
<line x1="319.64" y1="846.84" x2="319.64" y2="859.13" stroke="#858886" stroke-width="1.5"/>
<line x1="314.14" y1="846.84" x2="325.14" y2="846.84" stroke="#858886" stroke-width="1.5"/>
<line x1="314.14" y1="859.13" x2="325.14" y2="859.13" stroke="#858886" stroke-width="1.5"/>
<line x1="354.17" y1="831.64" x2="354.17" y2="848.78" stroke="#858886" stroke-width="1.5"/>
<line x1="348.67" y1="831.64" x2="359.67" y2="831.64" stroke="#858886" stroke-width="1.5"/>
<line x1="348.67" y1="848.78" x2="359.67" y2="848.78" stroke="#858886" stroke-width="1.5"/>
<line x1="388.69" y1="803.19" x2="388.69" y2="842.64" stroke="#858886" stroke-width="1.5"/>
<line x1="383.19" y1="803.19" x2="394.19" y2="803.19" stroke="#858886" stroke-width="1.5"/>
<line x1="383.19" y1="842.64" x2="394.19" y2="842.64" stroke="#858886" stroke-width="1.5"/>
<line x1="440.48" y1="699.7" x2="440.48" y2="781.52" stroke="#858886" stroke-width="1.5"/>
<line x1="434.98" y1="699.7" x2="445.98" y2="699.7" stroke="#858886" stroke-width="1.5"/>
<line x1="434.98" y1="781.52" x2="445.98" y2="781.52" stroke="#858886" stroke-width="1.5"/>
<line x1="475" y1="655.08" x2="475" y2="739.48" stroke="#858886" stroke-width="1.5"/>
<line x1="469.5" y1="655.08" x2="480.5" y2="655.08" stroke="#858886" stroke-width="1.5"/>
<line x1="469.5" y1="739.48" x2="480.5" y2="739.48" stroke="#858886" stroke-width="1.5"/>
<line x1="319.64" y1="831.32" x2="319.64" y2="844.26" stroke="#858886" stroke-width="1.5"/>
<line x1="314.14" y1="831.32" x2="325.14" y2="831.32" stroke="#858886" stroke-width="1.5"/>
<line x1="314.14" y1="844.26" x2="325.14" y2="844.26" stroke="#858886" stroke-width="1.5"/>
<line x1="354.17" y1="805.45" x2="354.17" y2="824.21" stroke="#858886" stroke-width="1.5"/>
<line x1="348.67" y1="805.45" x2="359.67" y2="805.45" stroke="#858886" stroke-width="1.5"/>
<line x1="348.67" y1="824.21" x2="359.67" y2="824.21" stroke="#858886" stroke-width="1.5"/>
<line x1="388.69" y1="773.11" x2="388.69" y2="801.57" stroke="#858886" stroke-width="1.5"/>
<line x1="383.19" y1="773.11" x2="394.19" y2="773.11" stroke="#858886" stroke-width="1.5"/>
<line x1="383.19" y1="801.57" x2="394.19" y2="801.57" stroke="#858886" stroke-width="1.5"/>
<line x1="440.48" y1="680.95" x2="440.48" y2="729.45" stroke="#858886" stroke-width="1.5"/>
<line x1="434.98" y1="680.95" x2="445.98" y2="680.95" stroke="#858886" stroke-width="1.5"/>
<line x1="434.98" y1="729.45" x2="445.98" y2="729.45" stroke="#858886" stroke-width="1.5"/>
<line x1="475" y1="616.27" x2="475" y2="667.36" stroke="#858886" stroke-width="1.5"/>
<line x1="469.5" y1="616.27" x2="480.5" y2="616.27" stroke="#858886" stroke-width="1.5"/>
<line x1="469.5" y1="667.36" x2="480.5" y2="667.36" stroke="#858886" stroke-width="1.5"/>
<path d="M112.5 867.22 L147.02 867.22 L198.81 867.22 L233.33 866.25 L267.86 860.75 L319.64 795.75 L354.17 766.64 L388.69 713.61 L440.48 628.88 L475 573.26" fill="none" stroke="#86938c" stroke-width="3" stroke-linejoin="round"/>
<circle cx="112.5" cy="867.22" r="4.7" fill="#86938c"/>
<circle cx="147.02" cy="867.22" r="4.7" fill="#86938c"/>
<circle cx="198.81" cy="867.22" r="4.7" fill="#86938c"/>
<circle cx="233.33" cy="866.25" r="4.7" fill="#86938c"/>
<circle cx="267.86" cy="860.75" r="4.7" fill="#86938c"/>
<circle cx="319.64" cy="795.75" r="4.7" fill="#86938c"/>
<circle cx="354.17" cy="766.64" r="4.7" fill="#86938c"/>
<circle cx="388.69" cy="713.61" r="4.7" fill="#86938c"/>
<circle cx="440.48" cy="628.88" r="4.7" fill="#86938c"/>
<circle cx="475" cy="573.26" r="4.7" fill="#86938c"/>
<path d="M112.5 867.22 L147.02 867.22 L198.81 867.22 L233.33 867.22 L267.86 864.63 L319.64 852.99 L354.17 840.38 L388.69 822.91 L440.48 741.1 L475 697.44" fill="none" stroke="#96154f" stroke-width="3" stroke-linejoin="round"/>
<circle cx="112.5" cy="867.22" r="4.7" fill="#96154f"/>
<circle cx="147.02" cy="867.22" r="4.7" fill="#96154f"/>
<circle cx="198.81" cy="867.22" r="4.7" fill="#96154f"/>
<circle cx="233.33" cy="867.22" r="4.7" fill="#96154f"/>
<circle cx="267.86" cy="864.63" r="4.7" fill="#96154f"/>
<circle cx="319.64" cy="852.99" r="4.7" fill="#96154f"/>
<circle cx="354.17" cy="840.38" r="4.7" fill="#96154f"/>
<circle cx="388.69" cy="822.91" r="4.7" fill="#96154f"/>
<circle cx="440.48" cy="741.1" r="4.7" fill="#96154f"/>
<circle cx="475" cy="697.44" r="4.7" fill="#96154f"/>
<path d="M112.5 867.22 L147.02 867.22 L198.81 867.22 L233.33 866.57 L267.86 865.28 L319.64 837.79 L354.17 814.83 L388.69 787.02 L440.48 705.2 L475 641.82" fill="none" stroke="#009352" stroke-width="3" stroke-linejoin="round"/>
<circle cx="112.5" cy="867.22" r="4.7" fill="#009352"/>
<circle cx="147.02" cy="867.22" r="4.7" fill="#009352"/>
<circle cx="198.81" cy="867.22" r="4.7" fill="#009352"/>
<circle cx="233.33" cy="866.57" r="4.7" fill="#009352"/>
<circle cx="267.86" cy="865.28" r="4.7" fill="#009352"/>
<circle cx="319.64" cy="837.79" r="4.7" fill="#009352"/>
<circle cx="354.17" cy="814.83" r="4.7" fill="#009352"/>
<circle cx="388.69" cy="787.02" r="4.7" fill="#009352"/>
<circle cx="440.48" cy="705.2" r="4.7" fill="#009352"/>
<circle cx="475" cy="641.82" r="4.7" fill="#009352"/>
<text x="293.6" y="955.8" font-size="24.5" text-anchor="middle">Days after tumor cell inoculation</text>
<text transform="translate(26,676.5) rotate(-90)" font-size="25" text-anchor="middle">Tumor volume (mm<tspan font-size="17.5" dy="-8">3</tspan><tspan dy="8">)</tspan></text>
<line x1="136.5" y1="496.6" x2="169.5" y2="496.6" stroke="#86938c" stroke-width="3" stroke-linecap="round"/>
<circle cx="152.8" cy="496.6" r="4.5" fill="#86938c"/>
<text x="188" y="504.9" font-size="22.8">Mock</text>
<line x1="136.5" y1="529.4" x2="169.5" y2="529.4" stroke="#009352" stroke-width="3" stroke-linecap="round"/>
<circle cx="152.8" cy="529.4" r="4.5" fill="#009352"/>
<text x="188" y="537.7" font-size="22.8">pB16F10-ctrl.</text>
<line x1="136.5" y1="560.3" x2="169.5" y2="560.3" stroke="#96154f" stroke-width="3" stroke-linecap="round"/>
<circle cx="152.8" cy="560.3" r="4.5" fill="#96154f"/>
<text x="188" y="568.6" font-size="22.8">pB16F10-13</text>
<line x1="634.4" y1="450.9" x2="634.4" y2="629.9" stroke="#000" stroke-width="3"/>
<line x1="621.9" y1="628.4" x2="759.38" y2="628.4" stroke="#000" stroke-width="3"/>
<line x1="634.4" y1="628.4" x2="634.4" y2="640.9" stroke="#000" stroke-width="3"/>
<text x="634.4" y="664.4" font-size="20.7" text-anchor="middle" font-weight="bold" fill="#1a1a1a" stroke="#1a1a1a">0</text>
<line x1="675.56" y1="628.4" x2="675.56" y2="640.9" stroke="#000" stroke-width="3"/>
<text x="675.56" y="664.4" font-size="20.7" text-anchor="middle" font-weight="bold" fill="#1a1a1a" stroke="#1a1a1a">7</text>
<line x1="716.72" y1="628.4" x2="716.72" y2="640.9" stroke="#000" stroke-width="3"/>
<text x="716.72" y="664.4" font-size="20.7" text-anchor="middle" font-weight="bold" fill="#1a1a1a" stroke="#1a1a1a">14</text>
<line x1="757.88" y1="628.4" x2="757.88" y2="640.9" stroke="#000" stroke-width="3"/>
<text x="757.88" y="664.4" font-size="20.7" text-anchor="middle" font-weight="bold" fill="#1a1a1a" stroke="#1a1a1a">21</text>
<line x1="621.9" y1="628.4" x2="634.4" y2="628.4" stroke="#000" stroke-width="3"/>
<text x="618.4" y="635.9" font-size="20.7" text-anchor="end" font-weight="bold" fill="#1a1a1a" stroke="#1a1a1a">0</text>
<line x1="621.9" y1="584.4" x2="634.4" y2="584.4" stroke="#000" stroke-width="3"/>
<text x="618.4" y="591.9" font-size="20.7" text-anchor="end" font-weight="bold" fill="#1a1a1a" stroke="#1a1a1a">400</text>
<line x1="621.9" y1="540.4" x2="634.4" y2="540.4" stroke="#000" stroke-width="3"/>
<text x="618.4" y="547.9" font-size="20.7" text-anchor="end" font-weight="bold" fill="#1a1a1a" stroke="#1a1a1a">800</text>
<line x1="621.9" y1="496.4" x2="634.4" y2="496.4" stroke="#000" stroke-width="3"/>
<text x="618.4" y="503.9" font-size="20.7" text-anchor="end" font-weight="bold" fill="#1a1a1a" stroke="#1a1a1a">1200</text>
<line x1="621.9" y1="452.4" x2="634.4" y2="452.4" stroke="#000" stroke-width="3"/>
<text x="618.4" y="459.9" font-size="20.7" text-anchor="end" font-weight="bold" fill="#1a1a1a" stroke="#1a1a1a">1600</text>
<text transform="translate(561.9,540.4) rotate(-90)" font-size="22.2" text-anchor="middle" fill="#1a1a1a" stroke="#1a1a1a">Tumor Volume (mm<tspan font-size="15.5" dy="-7">3</tspan><tspan dy="7">)</tspan></text>
<clipPath id="cl6796"><rect x="633.4" y="451.4" width="126.48" height="178.5"/></clipPath>
<g clip-path="url(#cl6796)">
<path d="M634.4 628.4 L675.56 627.85 L687.32 613.22 L704.96 475.28" fill="none" stroke="#86938c" stroke-width="1.55" stroke-linejoin="round"/>
<path d="M634.4 628.4 L675.56 628.4 L687.32 626.2 L704.96 604.2 L716.72 583.3 L728.48 467.36" fill="none" stroke="#86938c" stroke-width="1.55" stroke-linejoin="round"/>
<path d="M634.4 628.4 L675.56 628.4 L687.32 627.3 L704.96 607.5 L716.72 592.1 L728.48 581.1 L746.12 524.34" fill="none" stroke="#86938c" stroke-width="1.55" stroke-linejoin="round"/>
<path d="M634.4 628.4 L675.56 628.4 L687.32 627.85 L704.96 611.9 L716.72 598.7 L728.48 584.4 L746.12 532.59" fill="none" stroke="#86938c" stroke-width="1.55" stroke-linejoin="round"/>
<path d="M634.4 628.4 L675.56 628.4 L687.32 628.4 L704.96 615.2 L716.72 603.1 L728.48 587.7 L746.12 545.24" fill="none" stroke="#86938c" stroke-width="1.55" stroke-linejoin="round"/>
<path d="M634.4 628.4 L675.56 628.4 L687.32 628.4 L704.96 618.5 L716.72 606.4 L728.48 592.1 L746.12 555.47" fill="none" stroke="#86938c" stroke-width="1.55" stroke-linejoin="round"/>
<path d="M634.4 628.4 L675.56 628.4 L687.32 628.4 L704.96 621.8 L716.72 611.9 L728.48 598.7 L746.12 562.4" fill="none" stroke="#86938c" stroke-width="1.55" stroke-linejoin="round"/>
<path d="M634.4 628.4 L675.56 628.4 L687.32 628.4 L704.96 617.4 L716.72 602 L728.48 596.5 L746.12 581.1 L757.88 531.6" fill="none" stroke="#86938c" stroke-width="1.55" stroke-linejoin="round"/>
<path d="M634.4 628.4 L675.56 628.4 L687.32 628.4 L704.96 620.7 L716.72 610.8 L728.48 606.4 L746.12 592.1 L757.88 539.52" fill="none" stroke="#86938c" stroke-width="1.55" stroke-linejoin="round"/>
<path d="M634.4 628.4 L675.56 628.4 L687.32 628.4 L704.96 619.6 L716.72 606.73 L728.48 608.6 L746.12 611.68 L757.88 540.51" fill="none" stroke="#86938c" stroke-width="1.55" stroke-linejoin="round"/>
<path d="M634.4 628.4 L675.56 628.4 L687.32 628.4 L704.96 624 L716.72 615.2 L728.48 619.05 L746.12 594.3 L757.88 544.47" fill="none" stroke="#86938c" stroke-width="1.55" stroke-linejoin="round"/>
<path d="M634.4 628.4 L675.56 628.4 L687.32 628.4 L704.96 625.1 L716.72 617.4 L728.48 624 L746.12 595.4 L757.88 569.33" fill="none" stroke="#86938c" stroke-width="1.55" stroke-linejoin="round"/>
<path d="M634.4 628.4 L675.56 628.4 L687.32 628.4 L704.96 627.3 L716.72 622.9 L728.48 628.4 L746.12 596.5 L757.88 572.3" fill="none" stroke="#86938c" stroke-width="1.55" stroke-linejoin="round"/>
<path d="M634.4 628.4 L675.56 628.4 L687.32 628.4 L704.96 628.4 L716.72 626.2 L728.48 628.4 L746.12 611.9 L757.88 576.81" fill="none" stroke="#86938c" stroke-width="1.55" stroke-linejoin="round"/>
</g>
<line x1="634.4" y1="689.4" x2="634.4" y2="868.4" stroke="#000" stroke-width="3"/>
<line x1="621.9" y1="866.9" x2="759.38" y2="866.9" stroke="#000" stroke-width="3"/>
<line x1="634.4" y1="866.9" x2="634.4" y2="879.4" stroke="#000" stroke-width="3"/>
<text x="634.4" y="902.9" font-size="20.7" text-anchor="middle" font-weight="bold" fill="#1a1a1a" stroke="#1a1a1a">0</text>
<line x1="675.56" y1="866.9" x2="675.56" y2="879.4" stroke="#000" stroke-width="3"/>
<text x="675.56" y="902.9" font-size="20.7" text-anchor="middle" font-weight="bold" fill="#1a1a1a" stroke="#1a1a1a">7</text>
<line x1="716.72" y1="866.9" x2="716.72" y2="879.4" stroke="#000" stroke-width="3"/>
<text x="716.72" y="902.9" font-size="20.7" text-anchor="middle" font-weight="bold" fill="#1a1a1a" stroke="#1a1a1a">14</text>
<line x1="757.88" y1="866.9" x2="757.88" y2="879.4" stroke="#000" stroke-width="3"/>
<text x="757.88" y="902.9" font-size="20.7" text-anchor="middle" font-weight="bold" fill="#1a1a1a" stroke="#1a1a1a">21</text>
<line x1="621.9" y1="866.9" x2="634.4" y2="866.9" stroke="#000" stroke-width="3"/>
<text x="618.4" y="874.4" font-size="20.7" text-anchor="end" font-weight="bold" fill="#1a1a1a" stroke="#1a1a1a">0</text>
<line x1="621.9" y1="822.9" x2="634.4" y2="822.9" stroke="#000" stroke-width="3"/>
<text x="618.4" y="830.4" font-size="20.7" text-anchor="end" font-weight="bold" fill="#1a1a1a" stroke="#1a1a1a">400</text>
<line x1="621.9" y1="778.9" x2="634.4" y2="778.9" stroke="#000" stroke-width="3"/>
<text x="618.4" y="786.4" font-size="20.7" text-anchor="end" font-weight="bold" fill="#1a1a1a" stroke="#1a1a1a">800</text>
<line x1="621.9" y1="734.9" x2="634.4" y2="734.9" stroke="#000" stroke-width="3"/>
<text x="618.4" y="742.4" font-size="20.7" text-anchor="end" font-weight="bold" fill="#1a1a1a" stroke="#1a1a1a">1200</text>
<line x1="621.9" y1="690.9" x2="634.4" y2="690.9" stroke="#000" stroke-width="3"/>
<text x="618.4" y="698.4" font-size="20.7" text-anchor="end" font-weight="bold" fill="#1a1a1a" stroke="#1a1a1a">1600</text>
<text transform="translate(561.9,778.9) rotate(-90)" font-size="22.2" text-anchor="middle" fill="#1a1a1a" stroke="#1a1a1a">Tumor Volume (mm<tspan font-size="15.5" dy="-7">3</tspan><tspan dy="7">)</tspan></text>
<clipPath id="cl7034"><rect x="633.4" y="689.9" width="126.48" height="178.5"/></clipPath>
<g clip-path="url(#cl7034)">
<path d="M634.4 866.9 L646.16 866.9 L663.8 866.9 L675.56 866.9 L687.32 860.3 L704.96 847.1 L716.72 830.6 L728.48 811.9 L746.12 690.9" fill="none" stroke="#96154f" stroke-width="1.55" stroke-linejoin="round"/>
<path d="M634.4 866.9 L646.16 866.9 L663.8 866.9 L675.56 866.9 L687.32 862.5 L704.96 854.8 L716.72 853.7 L728.48 824 L746.12 818.5 L757.88 776.7" fill="none" stroke="#96154f" stroke-width="1.55" stroke-linejoin="round"/>
<path d="M634.4 866.9 L646.16 866.9 L663.8 866.9 L675.56 866.9 L687.32 865.8 L704.96 858.1 L716.72 851.5 L728.48 841.6 L746.12 809.7 L749.06 831.7 L757.88 785.5" fill="none" stroke="#96154f" stroke-width="1.55" stroke-linejoin="round"/>
<path d="M634.4 866.9 L646.16 866.9 L663.8 866.9 L675.56 866.9 L687.32 866.9 L704.96 863.6 L716.72 852.6 L728.48 865.8 L746.12 822.9 L757.88 800.9" fill="none" stroke="#96154f" stroke-width="1.55" stroke-linejoin="round"/>
<path d="M634.4 866.9 L646.16 866.9 L663.8 866.9 L675.56 866.9 L687.32 866.9 L704.96 864.7 L716.72 862.5 L728.48 866.9 L746.12 844.9 L757.88 819.6" fill="none" stroke="#96154f" stroke-width="1.55" stroke-linejoin="round"/>
<path d="M634.4 866.9 L646.16 866.9 L663.8 866.9 L675.56 866.9 L687.32 866.9 L704.96 865.8 L716.72 864.7 L728.48 866.9 L746.12 853.7 L757.88 832.8" fill="none" stroke="#96154f" stroke-width="1.55" stroke-linejoin="round"/>
<path d="M634.4 866.9 L646.16 866.9 L663.8 866.9 L675.56 866.9 L687.32 866.9 L704.96 866.9 L716.72 863.6 L728.48 866.9 L746.12 857 L757.88 838.3" fill="none" stroke="#96154f" stroke-width="1.55" stroke-linejoin="round"/>
<path d="M634.4 866.9 L646.16 866.9 L663.8 866.9 L675.56 866.9 L687.32 866.9 L704.96 866.9 L716.72 865.8 L728.48 866.9 L746.12 860.3 L757.88 844.9" fill="none" stroke="#96154f" stroke-width="1.55" stroke-linejoin="round"/>
<path d="M634.4 866.9 L646.16 866.9 L663.8 866.9 L675.56 866.9 L687.32 866.9 L704.96 866.9 L716.72 866.9 L728.48 866.9 L746.12 859.2 L757.88 846" fill="none" stroke="#96154f" stroke-width="1.55" stroke-linejoin="round"/>
<path d="M634.4 866.9 L646.16 866.9 L663.8 866.9 L675.56 866.9 L687.32 866.9 L704.96 866.9 L716.72 866.9 L728.48 866.9 L746.12 863.6 L757.88 859.2" fill="none" stroke="#96154f" stroke-width="1.55" stroke-linejoin="round"/>
<path d="M634.4 866.9 L646.16 866.9 L663.8 866.9 L675.56 866.9 L687.32 866.9 L704.96 866.9 L716.72 866.9 L728.48 866.9 L746.12 866.9 L757.88 865.8" fill="none" stroke="#96154f" stroke-width="1.55" stroke-linejoin="round"/>
<path d="M634.4 866.9 L646.16 866.9 L663.8 866.9 L675.56 866.9 L687.32 866.9 L704.96 866.9 L716.72 866.9 L728.48 866.9 L746.12 866.9 L757.88 866.9" fill="none" stroke="#96154f" stroke-width="1.55" stroke-linejoin="round"/>
<path d="M634.4 866.9 L646.16 866.9 L663.8 866.9 L675.56 866.9 L687.32 866.9 L704.96 866.9 L716.72 861.4 L728.48 864.7 L746.12 865.8 L757.88 865.8" fill="none" stroke="#96154f" stroke-width="1.55" stroke-linejoin="round"/>
</g>
<line x1="803.6" y1="691.7" x2="803.6" y2="868.9" stroke="#000" stroke-width="3"/>
<line x1="802.1" y1="867.4" x2="928.58" y2="867.4" stroke="#000" stroke-width="3"/>
<line x1="803.6" y1="867.4" x2="803.6" y2="879.9" stroke="#000" stroke-width="3"/>
<text x="803.6" y="903.4" font-size="20.7" text-anchor="middle" font-weight="bold" fill="#1a1a1a" stroke="#1a1a1a">0</text>
<line x1="844.76" y1="867.4" x2="844.76" y2="879.9" stroke="#000" stroke-width="3"/>
<text x="844.76" y="903.4" font-size="20.7" text-anchor="middle" font-weight="bold" fill="#1a1a1a" stroke="#1a1a1a">7</text>
<line x1="885.92" y1="867.4" x2="885.92" y2="879.9" stroke="#000" stroke-width="3"/>
<text x="885.92" y="903.4" font-size="20.7" text-anchor="middle" font-weight="bold" fill="#1a1a1a" stroke="#1a1a1a">14</text>
<line x1="927.08" y1="867.4" x2="927.08" y2="879.9" stroke="#000" stroke-width="3"/>
<text x="927.08" y="903.4" font-size="20.7" text-anchor="middle" font-weight="bold" fill="#1a1a1a" stroke="#1a1a1a">21</text>
<clipPath id="cl8727"><rect x="802.6" y="690.7" width="126.48" height="178.2"/></clipPath>
<g clip-path="url(#cl8727)">
<path d="M803.6 867.4 L815.36 867.4 L833 867.4 L844.76 866.85 L856.52 865.2 L874.16 854.22 L885.92 839.95 L897.68 821.28 L915.32 772.96" fill="none" stroke="#009352" stroke-width="1.55" stroke-linejoin="round"/>
<path d="M803.6 867.4 L815.36 867.4 L833 867.4 L844.76 867.4 L856.52 864.11 L874.16 847.63 L885.92 838.85 L897.68 831.16 L915.32 790.53" fill="none" stroke="#009352" stroke-width="1.55" stroke-linejoin="round"/>
<path d="M803.6 867.4 L815.36 867.4 L833 867.4 L844.76 867.4 L856.52 866.3 L874.16 857.52 L885.92 844.34 L897.68 825.67 L915.32 808.1 L927.08 766.37" fill="none" stroke="#009352" stroke-width="1.55" stroke-linejoin="round"/>
<path d="M803.6 867.4 L815.36 867.4 L833 867.4 L844.76 867.4 L856.52 865.2 L874.16 853.12 L885.92 846.54 L897.68 834.46 L915.32 805.9 L927.08 777.35" fill="none" stroke="#009352" stroke-width="1.55" stroke-linejoin="round"/>
<path d="M803.6 867.4 L815.36 867.4 L833 867.4 L844.76 867.4 L856.52 867.4 L874.16 860.81 L885.92 848.73 L897.68 841.04 L915.32 801.51 L927.08 779.55" fill="none" stroke="#009352" stroke-width="1.55" stroke-linejoin="round"/>
<path d="M803.6 867.4 L815.36 867.4 L833 867.4 L844.76 867.4 L856.52 867.4 L874.16 861.91 L885.92 855.32 L897.68 837.75 L915.32 815.79 L927.08 793.83" fill="none" stroke="#009352" stroke-width="1.55" stroke-linejoin="round"/>
<path d="M803.6 867.4 L815.36 867.4 L833 867.4 L844.76 867.4 L856.52 867.4 L874.16 864.11 L885.92 858.62 L897.68 850.93 L915.32 834.46 L927.08 804.81" fill="none" stroke="#009352" stroke-width="1.55" stroke-linejoin="round"/>
<path d="M803.6 867.4 L815.36 867.4 L833 867.4 L844.76 867.4 L856.52 867.4 L874.16 865.2 L885.92 860.81 L897.68 848.73 L915.32 831.16 L927.08 777.35" fill="none" stroke="#009352" stroke-width="1.55" stroke-linejoin="round"/>
<path d="M803.6 867.4 L815.36 867.4 L833 867.4 L844.76 867.4 L856.52 867.4 L874.16 866.3 L885.92 859.71 L897.68 860.81 L915.32 835.55 L927.08 805.9" fill="none" stroke="#009352" stroke-width="1.55" stroke-linejoin="round"/>
<path d="M803.6 867.4 L815.36 867.4 L833 867.4 L844.76 867.4 L856.52 867.4 L874.16 867.4 L885.92 863.01 L897.68 857.52 L915.32 844.34 L927.08 828.97" fill="none" stroke="#009352" stroke-width="1.55" stroke-linejoin="round"/>
<path d="M803.6 867.4 L815.36 867.4 L833 867.4 L844.76 867.4 L856.52 867.4 L874.16 866.3 L885.92 861.91 L897.68 852.03 L915.32 833.36 L927.08 794.92" fill="none" stroke="#009352" stroke-width="1.55" stroke-linejoin="round"/>
<path d="M803.6 867.4 L815.36 867.4 L833 867.4 L844.76 867.4 L856.52 867.4 L874.16 867.4 L885.92 867.4 L897.68 867.4 L915.32 866.3 L927.08 856.42" fill="none" stroke="#009352" stroke-width="1.55" stroke-linejoin="round"/>
<path d="M803.6 867.4 L815.36 867.4 L833 867.4 L844.76 867.4 L856.52 867.4 L874.16 867.4 L885.92 865.2 L897.68 845.44 L915.32 838.85 L927.08 805.9" fill="none" stroke="#009352" stroke-width="1.55" stroke-linejoin="round"/>
</g>
<text x="1038" y="405.3" font-size="45" font-weight="bold" fill="#222" stroke="#222">d</text>
<path d="M1217.6 867.4 L1217.6 727.4 L1305.2 727.4 L1305.2 867.4" fill="none" stroke="#828282" stroke-width="1.3" stroke-linejoin="miter"/>
<path d="M1352.5 867.4 L1352.5 809.1 L1440.6 809.1 L1440.6 867.4" fill="none" stroke="#828282" stroke-width="1.3" stroke-linejoin="miter"/>
<path d="M1486.3 867.4 L1486.3 782.5 L1575.1 782.5 L1575.1 867.4" fill="none" stroke="#828282" stroke-width="1.3" stroke-linejoin="miter"/>
<line x1="1261.4" y1="607.3" x2="1261.4" y2="846.7" stroke="#86938c" stroke-width="1.4"/>
<line x1="1238.7" y1="607.3" x2="1284.1" y2="607.3" stroke="#86938c" stroke-width="1.4"/>
<line x1="1238.7" y1="846.7" x2="1284.1" y2="846.7" stroke="#86938c" stroke-width="1.4"/>
<line x1="1396.4" y1="745" x2="1396.4" y2="868" stroke="#86938c" stroke-width="1.4"/>
<line x1="1373.7" y1="745" x2="1419.1" y2="745" stroke="#86938c" stroke-width="1.4"/>
<line x1="1373.7" y1="868" x2="1419.1" y2="868" stroke="#86938c" stroke-width="1.4"/>
<line x1="1531" y1="738.7" x2="1531" y2="824.8" stroke="#86938c" stroke-width="1.4"/>
<line x1="1508.3" y1="738.7" x2="1553.7" y2="738.7" stroke="#86938c" stroke-width="1.4"/>
<line x1="1508.3" y1="824.8" x2="1553.7" y2="824.8" stroke="#86938c" stroke-width="1.4"/>
<line x1="1171.8" y1="483" x2="1171.8" y2="868.8" stroke="#000" stroke-width="2.85"/>
<line x1="1157.8" y1="867.4" x2="1620.5" y2="867.4" stroke="#000" stroke-width="2.85"/>
<line x1="1157.8" y1="867.4" x2="1171.8" y2="867.4" stroke="#000" stroke-width="2.85"/>
<text x="1153.3" y="876.4" font-size="23" text-anchor="end" font-weight="bold">0</text>
<line x1="1157.8" y1="771.65" x2="1171.8" y2="771.65" stroke="#000" stroke-width="2.85"/>
<text x="1153.3" y="780.65" font-size="23" text-anchor="end" font-weight="bold">3000</text>
<line x1="1157.8" y1="675.9" x2="1171.8" y2="675.9" stroke="#000" stroke-width="2.85"/>
<text x="1153.3" y="684.9" font-size="23" text-anchor="end" font-weight="bold">6000</text>
<line x1="1157.8" y1="580.15" x2="1171.8" y2="580.15" stroke="#000" stroke-width="2.85"/>
<text x="1153.3" y="589.15" font-size="23" text-anchor="end" font-weight="bold">9000</text>
<line x1="1157.8" y1="484.4" x2="1171.8" y2="484.4" stroke="#000" stroke-width="2.85"/>
<text x="1153.3" y="493.4" font-size="23" text-anchor="end" font-weight="bold">12000</text>
<line x1="1261.4" y1="867.4" x2="1261.4" y2="880.9" stroke="#000" stroke-width="2.85"/>
<line x1="1396.4" y1="867.4" x2="1396.4" y2="880.9" stroke="#000" stroke-width="2.85"/>
<line x1="1531" y1="867.4" x2="1531" y2="880.9" stroke="#000" stroke-width="2.85"/>
<circle cx="1261.36" cy="546.59" r="4.75" fill="#86938c"/>
<circle cx="1251.97" cy="708.93" r="4.75" fill="#86938c"/>
<circle cx="1270.74" cy="710.88" r="4.75" fill="#86938c"/>
<circle cx="1261.36" cy="725.36" r="4.75" fill="#86938c"/>
<circle cx="1261.36" cy="735.53" r="4.75" fill="#86938c"/>
<circle cx="1261.36" cy="749.61" r="4.75" fill="#86938c"/>
<circle cx="1251.97" cy="776.99" r="4.75" fill="#86938c"/>
<circle cx="1270.74" cy="783.64" r="4.75" fill="#86938c"/>
<circle cx="1251.97" cy="790.68" r="4.75" fill="#86938c"/>
<circle cx="1270.74" cy="803.98" r="4.75" fill="#86938c"/>
<circle cx="1251.97" cy="812.2" r="4.75" fill="#86938c"/>
<circle cx="1270.74" cy="816.5" r="4.75" fill="#86938c"/>
<circle cx="1251.97" cy="824.32" r="4.75" fill="#86938c"/>
<circle cx="1396.31" cy="638.13" r="4.75" fill="#96154f"/>
<circle cx="1396.31" cy="732.4" r="4.75" fill="#96154f"/>
<circle cx="1396.31" cy="758.61" r="4.75" fill="#96154f"/>
<circle cx="1396.31" cy="780.9" r="4.75" fill="#96154f"/>
<circle cx="1405.31" cy="799.68" r="4.75" fill="#96154f"/>
<circle cx="1386.92" cy="808.29" r="4.75" fill="#96154f"/>
<circle cx="1405.31" cy="831.37" r="4.75" fill="#96154f"/>
<circle cx="1386.92" cy="837.62" r="4.75" fill="#96154f"/>
<circle cx="1423.69" cy="845.45" r="4.75" fill="#96154f"/>
<circle cx="1368.15" cy="851.32" r="4.75" fill="#96154f"/>
<circle cx="1386.92" cy="851.32" r="4.75" fill="#96154f"/>
<circle cx="1405.31" cy="859.53" r="4.75" fill="#96154f"/>
<circle cx="1423.69" cy="858.75" r="4.75" fill="#96154f"/>
<circle cx="1368.15" cy="867.75" r="4.75" fill="#96154f"/>
<circle cx="1549.65" cy="722.62" r="4.75" fill="#009352"/>
<circle cx="1512.49" cy="726.53" r="4.75" fill="#009352"/>
<circle cx="1530.87" cy="733.57" r="4.75" fill="#009352"/>
<circle cx="1530.87" cy="745.31" r="4.75" fill="#009352"/>
<circle cx="1512.49" cy="751.57" r="4.75" fill="#009352"/>
<circle cx="1549.65" cy="759.78" r="4.75" fill="#009352"/>
<circle cx="1530.87" cy="782.08" r="4.75" fill="#009352"/>
<circle cx="1512.49" cy="797.33" r="4.75" fill="#009352"/>
<circle cx="1549.65" cy="800.46" r="4.75" fill="#009352"/>
<circle cx="1530.87" cy="804.37" r="4.75" fill="#009352"/>
<circle cx="1512.49" cy="809.07" r="4.75" fill="#009352"/>
<circle cx="1549.65" cy="811.81" r="4.75" fill="#009352"/>
<circle cx="1530.87" cy="838.8" r="4.75" fill="#009352"/>
<circle cx="1530.87" cy="862.27" r="4.75" fill="#009352"/>
<path d="M1261.4 501.6 L1261.4 486.4 L1396.4 486.4 L1396.4 501.6" fill="none" stroke="#222" stroke-width="1" stroke-linejoin="miter"/>
<text x="1329.1" y="481.56" font-size="20.5" font-weight="bold" text-anchor="middle" style="font-family:'DejaVu Sans','Liberation Sans',sans-serif;stroke-width:0.6px" letter-spacing="0.2">*</text>
<text transform="translate(1088.5,677) rotate(-90)" font-size="25" text-anchor="middle">AUC of tumor volume</text>
<text transform="translate(1267.9,902) rotate(-45)" font-size="21.6" text-anchor="end">Mock</text>
<text transform="translate(1402.9,902) rotate(-45)" font-size="21.6" text-anchor="end">pB16F10-13</text>
<text transform="translate(1537.5,902) rotate(-45)" font-size="21.6" text-anchor="end">pB16F10-ctrl.</text>
<text x="19.5" y="1021.3" font-size="45" font-weight="bold" fill="#222" stroke="#222">e</text>
<text x="248" y="1071.1" font-size="20.5" text-anchor="middle">Splenic CD8+ T cells</text>
<path d="M222.3 1520.6 L222.3 1309.2 L273.4 1309.2 L273.4 1520.6" fill="none" stroke="#828282" stroke-width="1.3" stroke-linejoin="miter"/>
<path d="M301.4 1520.6 L301.4 1414.2 L352.7 1414.2 L352.7 1520.6" fill="none" stroke="#828282" stroke-width="1.3" stroke-linejoin="miter"/>
<line x1="247.7" y1="1210.9" x2="247.7" y2="1406.3" stroke="#86938c" stroke-width="1.4"/>
<line x1="234.3" y1="1210.9" x2="261.1" y2="1210.9" stroke="#86938c" stroke-width="1.4"/>
<line x1="234.3" y1="1406.3" x2="261.1" y2="1406.3" stroke="#86938c" stroke-width="1.4"/>
<line x1="326.8" y1="1345.7" x2="326.8" y2="1481.3" stroke="#86938c" stroke-width="1.4"/>
<line x1="313.4" y1="1345.7" x2="340.2" y2="1345.7" stroke="#86938c" stroke-width="1.4"/>
<line x1="313.4" y1="1481.3" x2="340.2" y2="1481.3" stroke="#86938c" stroke-width="1.4"/>
<line x1="116.7" y1="1134.08" x2="116.7" y2="1522.02" stroke="#000" stroke-width="2.85"/>
<line x1="102.7" y1="1520.6" x2="379.3" y2="1520.6" stroke="#000" stroke-width="2.85"/>
<line x1="102.7" y1="1520.6" x2="116.7" y2="1520.6" stroke="#000" stroke-width="2.85"/>
<text x="97.7" y="1528.6" font-size="23" text-anchor="end" font-weight="bold">0.0</text>
<line x1="102.7" y1="1465.59" x2="116.7" y2="1465.59" stroke="#000" stroke-width="2.85"/>
<text x="97.7" y="1473.59" font-size="23" text-anchor="end" font-weight="bold">0.2</text>
<line x1="102.7" y1="1410.57" x2="116.7" y2="1410.57" stroke="#000" stroke-width="2.85"/>
<text x="97.7" y="1418.57" font-size="23" text-anchor="end" font-weight="bold">0.4</text>
<line x1="102.7" y1="1355.56" x2="116.7" y2="1355.56" stroke="#000" stroke-width="2.85"/>
<text x="97.7" y="1363.56" font-size="23" text-anchor="end" font-weight="bold">0.6</text>
<line x1="102.7" y1="1300.54" x2="116.7" y2="1300.54" stroke="#000" stroke-width="2.85"/>
<text x="97.7" y="1308.54" font-size="23" text-anchor="end" font-weight="bold">0.8</text>
<line x1="102.7" y1="1245.53" x2="116.7" y2="1245.53" stroke="#000" stroke-width="2.85"/>
<text x="97.7" y="1253.53" font-size="23" text-anchor="end" font-weight="bold">1.0</text>
<line x1="102.7" y1="1190.51" x2="116.7" y2="1190.51" stroke="#000" stroke-width="2.85"/>
<text x="97.7" y="1198.51" font-size="23" text-anchor="end" font-weight="bold">1.2</text>
<line x1="102.7" y1="1135.5" x2="116.7" y2="1135.5" stroke="#000" stroke-width="2.85"/>
<text x="97.7" y="1143.5" font-size="23" text-anchor="end" font-weight="bold">1.4</text>
<line x1="168" y1="1520.6" x2="168" y2="1534.1" stroke="#000" stroke-width="2.85"/>
<line x1="247.7" y1="1520.6" x2="247.7" y2="1534.1" stroke="#000" stroke-width="2.85"/>
<line x1="326.8" y1="1520.6" x2="326.8" y2="1534.1" stroke="#000" stroke-width="2.85"/>
<circle cx="247.7" cy="1201.52" r="4.75" fill="#96154f"/>
<circle cx="247.7" cy="1278.84" r="4.75" fill="#96154f"/>
<circle cx="238.37" cy="1295.47" r="4.75" fill="#96154f"/>
<circle cx="256.75" cy="1300.72" r="4.75" fill="#96154f"/>
<circle cx="247.7" cy="1468.48" r="4.75" fill="#96154f"/>
<circle cx="326.77" cy="1308.89" r="4.75" fill="#009352"/>
<circle cx="326.77" cy="1361.12" r="4.75" fill="#009352"/>
<circle cx="326.77" cy="1421.22" r="4.75" fill="#009352"/>
<circle cx="317.43" cy="1443.68" r="4.75" fill="#009352"/>
<circle cx="336.11" cy="1449.52" r="4.75" fill="#009352"/>
<circle cx="326.77" cy="1497.08" r="4.75" fill="#009352"/>
<circle cx="146.75" cy="1517.21" r="4.75" fill="#86938c"/>
<circle cx="153.17" cy="1512.25" r="4.75" fill="#86938c"/>
<circle cx="159.3" cy="1517.21" r="4.75" fill="#86938c"/>
<circle cx="165.43" cy="1514.29" r="4.75" fill="#86938c"/>
<circle cx="171.55" cy="1520.12" r="4.75" fill="#86938c"/>
<circle cx="177.97" cy="1515.16" r="4.75" fill="#86938c"/>
<circle cx="184.1" cy="1520.12" r="4.75" fill="#86938c"/>
<circle cx="190.23" cy="1517.21" r="4.75" fill="#86938c"/>
<path d="M168 1131.5 L168 1113.4 L326.8 1113.4 L326.8 1131.5" fill="none" stroke="#222" stroke-width="1" stroke-linejoin="miter"/>
<text x="248" y="1107.96" font-size="20.5" font-weight="bold" text-anchor="middle" style="font-family:'DejaVu Sans','Liberation Sans',sans-serif;stroke-width:0.6px" letter-spacing="0.2">*</text>
<path d="M168 1183 L168 1165 L247.7 1165 L247.7 1183" fill="none" stroke="#222" stroke-width="1" stroke-linejoin="miter"/>
<text x="208.6" y="1159.66" font-size="20.5" font-weight="bold" text-anchor="middle" style="font-family:'DejaVu Sans','Liberation Sans',sans-serif;stroke-width:0.6px" letter-spacing="0.2">**</text>
<text transform="translate(54,1316.8) rotate(-90)" font-size="24.8" text-anchor="middle">% IFNγ &amp; TNFα of CD8+ T cells</text>
<text transform="translate(173.5,1553.5) rotate(-45)" font-size="21.6" text-anchor="end">Control</text>
<text transform="translate(253.2,1553.5) rotate(-45)" font-size="21.6" text-anchor="end">pB16F10-13</text>
<text transform="translate(332.3,1553.5) rotate(-45)" font-size="21.6" text-anchor="end">pB16F10-ctrl.</text>
<text x="613.4" y="1075.2" font-size="20.5" text-anchor="middle">Splenic CD4+ T cells</text>
<path d="M587.7 1520.6 L587.7 1385.9 L638.8 1385.9 L638.8 1520.6" fill="none" stroke="#828282" stroke-width="1.3" stroke-linejoin="miter"/>
<path d="M666.2 1520.6 L666.2 1492.1 L717.9 1492.1 L717.9 1520.6" fill="none" stroke="#828282" stroke-width="1.3" stroke-linejoin="miter"/>
<line x1="508.5" y1="1516.7" x2="559.5" y2="1516.7" stroke="#86938c" stroke-width="1.5"/>
<line x1="534" y1="1510" x2="534" y2="1519" stroke="#86938c" stroke-width="1.4"/>
<line x1="520.6" y1="1510" x2="547.4" y2="1510" stroke="#86938c" stroke-width="1.4"/>
<line x1="520.6" y1="1519" x2="547.4" y2="1519" stroke="#86938c" stroke-width="1.4"/>
<line x1="613.1" y1="1296.9" x2="613.1" y2="1473.7" stroke="#86938c" stroke-width="1.4"/>
<line x1="599.7" y1="1296.9" x2="626.5" y2="1296.9" stroke="#86938c" stroke-width="1.4"/>
<line x1="599.7" y1="1473.7" x2="626.5" y2="1473.7" stroke="#86938c" stroke-width="1.4"/>
<line x1="691.9" y1="1467.9" x2="691.9" y2="1515.2" stroke="#86938c" stroke-width="1.4"/>
<line x1="678.5" y1="1467.9" x2="705.3" y2="1467.9" stroke="#86938c" stroke-width="1.4"/>
<line x1="678.5" y1="1515.2" x2="705.3" y2="1515.2" stroke="#86938c" stroke-width="1.4"/>
<line x1="482.1" y1="1135.58" x2="482.1" y2="1522.02" stroke="#000" stroke-width="2.85"/>
<line x1="468.1" y1="1520.6" x2="744.7" y2="1520.6" stroke="#000" stroke-width="2.85"/>
<line x1="468.1" y1="1520.6" x2="482.1" y2="1520.6" stroke="#000" stroke-width="2.85"/>
<text x="464.2" y="1528.6" font-size="23" text-anchor="end" font-weight="bold">0.0</text>
<line x1="468.1" y1="1456.67" x2="482.1" y2="1456.67" stroke="#000" stroke-width="2.85"/>
<text x="464.2" y="1464.67" font-size="23" text-anchor="end" font-weight="bold">0.1</text>
<line x1="468.1" y1="1392.73" x2="482.1" y2="1392.73" stroke="#000" stroke-width="2.85"/>
<text x="464.2" y="1400.73" font-size="23" text-anchor="end" font-weight="bold">0.2</text>
<line x1="468.1" y1="1328.8" x2="482.1" y2="1328.8" stroke="#000" stroke-width="2.85"/>
<text x="464.2" y="1336.8" font-size="23" text-anchor="end" font-weight="bold">0.3</text>
<line x1="468.1" y1="1264.87" x2="482.1" y2="1264.87" stroke="#000" stroke-width="2.85"/>
<text x="464.2" y="1272.87" font-size="23" text-anchor="end" font-weight="bold">0.4</text>
<line x1="468.1" y1="1200.93" x2="482.1" y2="1200.93" stroke="#000" stroke-width="2.85"/>
<text x="464.2" y="1208.93" font-size="23" text-anchor="end" font-weight="bold">0.5</text>
<line x1="468.1" y1="1137" x2="482.1" y2="1137" stroke="#000" stroke-width="2.85"/>
<text x="464.2" y="1145" font-size="23" text-anchor="end" font-weight="bold">0.6</text>
<line x1="534" y1="1520.6" x2="534" y2="1534.1" stroke="#000" stroke-width="2.85"/>
<line x1="613.1" y1="1520.6" x2="613.1" y2="1534.1" stroke="#000" stroke-width="2.85"/>
<line x1="691.9" y1="1520.6" x2="691.9" y2="1534.1" stroke="#000" stroke-width="2.85"/>
<circle cx="613.11" cy="1283.8" r="4.75" fill="#96154f"/>
<circle cx="613.11" cy="1315.89" r="4.75" fill="#96154f"/>
<circle cx="613.11" cy="1379.79" r="4.75" fill="#96154f"/>
<circle cx="613.11" cy="1456.81" r="4.75" fill="#96154f"/>
<circle cx="613.11" cy="1490.66" r="4.75" fill="#96154f"/>
<circle cx="691.89" cy="1457.4" r="4.75" fill="#009352"/>
<circle cx="691.89" cy="1467.9" r="4.75" fill="#009352"/>
<circle cx="701.23" cy="1497.66" r="4.75" fill="#009352"/>
<circle cx="682.55" cy="1503.49" r="4.75" fill="#009352"/>
<circle cx="701.23" cy="1507.29" r="4.75" fill="#009352"/>
<circle cx="691.89" cy="1516.04" r="4.75" fill="#009352"/>
<circle cx="512.75" cy="1504.37" r="4.75" fill="#86938c"/>
<circle cx="530.26" cy="1508.45" r="4.75" fill="#86938c"/>
<circle cx="521.5" cy="1514.29" r="4.75" fill="#86938c"/>
<circle cx="512.75" cy="1518.96" r="4.75" fill="#86938c"/>
<circle cx="539.01" cy="1516.62" r="4.75" fill="#86938c"/>
<circle cx="530.26" cy="1520.12" r="4.75" fill="#86938c"/>
<circle cx="547.76" cy="1520.12" r="4.75" fill="#86938c"/>
<circle cx="555.93" cy="1517.5" r="4.75" fill="#86938c"/>
<path d="M534 1243.2 L534 1226 L613.1 1226 L613.1 1243.2" fill="none" stroke="#222" stroke-width="1" stroke-linejoin="miter"/>
<text x="573.8" y="1221.16" font-size="20.5" font-weight="bold" text-anchor="middle" style="font-family:'DejaVu Sans','Liberation Sans',sans-serif;stroke-width:0.6px" letter-spacing="0.2">***</text>
<text transform="translate(419.4,1318) rotate(-90)" font-size="24.8" text-anchor="middle">% IFNγ &amp; TNFα of CD4+ T cells</text>
<text transform="translate(539.5,1553.5) rotate(-45)" font-size="21.6" text-anchor="end">Control</text>
<text transform="translate(618.6,1553.5) rotate(-45)" font-size="21.6" text-anchor="end">pB16F10-13</text>
<text transform="translate(697.4,1553.5) rotate(-45)" font-size="21.6" text-anchor="end">pB16F10-ctrl.</text>
<text x="822" y="1020.6" font-size="45" font-weight="bold" fill="#222" stroke="#222">f</text>
<path d="M945.5 1520.7 L945.5 1513.5 L996.5 1513.5 L996.5 1520.7" fill="none" stroke="#828282" stroke-width="1.3" stroke-linejoin="miter"/>
<path d="M1024.5 1520.7 L1024.5 1279.4 L1075 1279.4 L1075 1520.7" fill="none" stroke="#828282" stroke-width="1.3" stroke-linejoin="miter"/>
<path d="M1102.5 1520.7 L1102.5 1517.3 L1153.5 1517.3 L1153.5 1520.7" fill="none" stroke="#828282" stroke-width="1.3" stroke-linejoin="miter"/>
<line x1="971.1" y1="1510.5" x2="971.1" y2="1516.5" stroke="#86938c" stroke-width="1.4"/>
<line x1="958.3" y1="1510.5" x2="983.9" y2="1510.5" stroke="#86938c" stroke-width="1.4"/>
<line x1="958.3" y1="1516.5" x2="983.9" y2="1516.5" stroke="#86938c" stroke-width="1.4"/>
<line x1="1049.6" y1="1164.8" x2="1049.6" y2="1393.2" stroke="#86938c" stroke-width="1.4"/>
<line x1="1036.8" y1="1164.8" x2="1062.4" y2="1164.8" stroke="#86938c" stroke-width="1.4"/>
<line x1="1036.8" y1="1393.2" x2="1062.4" y2="1393.2" stroke="#86938c" stroke-width="1.4"/>
<line x1="920" y1="1137.98" x2="920" y2="1522.12" stroke="#000" stroke-width="2.85"/>
<line x1="906" y1="1520.7" x2="1181" y2="1520.7" stroke="#000" stroke-width="2.85"/>
<line x1="906" y1="1520.7" x2="920" y2="1520.7" stroke="#000" stroke-width="2.85"/>
<text x="901.2" y="1528.7" font-size="23" text-anchor="end" font-weight="bold">0.0</text>
<line x1="906" y1="1444.44" x2="920" y2="1444.44" stroke="#000" stroke-width="2.85"/>
<text x="901.2" y="1452.44" font-size="23" text-anchor="end" font-weight="bold">0.2</text>
<line x1="906" y1="1368.18" x2="920" y2="1368.18" stroke="#000" stroke-width="2.85"/>
<text x="901.2" y="1376.18" font-size="23" text-anchor="end" font-weight="bold">0.4</text>
<line x1="906" y1="1291.92" x2="920" y2="1291.92" stroke="#000" stroke-width="2.85"/>
<text x="901.2" y="1299.92" font-size="23" text-anchor="end" font-weight="bold">0.6</text>
<line x1="906" y1="1215.66" x2="920" y2="1215.66" stroke="#000" stroke-width="2.85"/>
<text x="901.2" y="1223.66" font-size="23" text-anchor="end" font-weight="bold">0.8</text>
<line x1="906" y1="1139.4" x2="920" y2="1139.4" stroke="#000" stroke-width="2.85"/>
<text x="901.2" y="1147.4" font-size="23" text-anchor="end" font-weight="bold">1.0</text>
<line x1="971.1" y1="1520.7" x2="971.1" y2="1534.2" stroke="#000" stroke-width="2.85"/>
<line x1="1049.6" y1="1520.7" x2="1049.6" y2="1534.2" stroke="#000" stroke-width="2.85"/>
<line x1="1128.1" y1="1520.7" x2="1128.1" y2="1534.2" stroke="#000" stroke-width="2.85"/>
<circle cx="1049.58" cy="1176.14" r="4.75" fill="#96154f"/>
<circle cx="1049.58" cy="1199.48" r="4.75" fill="#96154f"/>
<circle cx="1049.58" cy="1214.65" r="4.75" fill="#96154f"/>
<circle cx="1049.58" cy="1378.91" r="4.75" fill="#96154f"/>
<circle cx="1049.58" cy="1425.01" r="4.75" fill="#96154f"/>
<circle cx="949.22" cy="1515.16" r="4.75" fill="#86938c"/>
<circle cx="960.01" cy="1511.37" r="4.75" fill="#86938c"/>
<circle cx="971.1" cy="1512.25" r="4.75" fill="#86938c"/>
<circle cx="981.9" cy="1511.37" r="4.75" fill="#86938c"/>
<circle cx="992.98" cy="1507.29" r="4.75" fill="#86938c"/>
<circle cx="992.98" cy="1517.5" r="4.75" fill="#86938c"/>
<line x1="1116.5" y1="1517.6" x2="1139.5" y2="1517.6" stroke="#0f1f8f" stroke-width="1.6"/>
<circle cx="1118.44" cy="1518.08" r="4.75" fill="#0f1f8f"/>
<circle cx="1137.4" cy="1515.16" r="4.75" fill="#0f1f8f"/>
<text transform="translate(856.4,1318) rotate(-90)" font-size="24.8" text-anchor="middle">%B7 multimer+ of CD8+ T cells</text>
<text transform="translate(976.6,1553.5) rotate(-45)" font-size="21.6" text-anchor="end">Mock</text>
<text transform="translate(1055.1,1553.5) rotate(-45)" font-size="21.6" text-anchor="end">pB16F10-13</text>
<text transform="translate(1133.6,1553.5) rotate(-45)" font-size="21.6" text-anchor="end">neg. ctrl.</text>
<text x="1205.5" y="1021.5" font-size="45" font-weight="bold" fill="#222" stroke="#222">g</text>
<text x="1378.5" y="1095.8" font-size="20.5" text-anchor="middle">mock</text>
<text x="1529.3" y="1095.8" font-size="20.5" text-anchor="middle">pB16F10-13</text>
<line x1="1333.8" y1="1108.8" x2="1422.8" y2="1108.8" stroke="#222" stroke-width="1.2"/>
<line x1="1431" y1="1108.8" x2="1626.5" y2="1108.8" stroke="#222" stroke-width="1.2"/>
<text x="1378.5" y="1133.3" font-size="20.3" text-anchor="middle">multimer-</text>
<text x="1477.7" y="1133.3" font-size="20.3" text-anchor="middle">multimer+</text>
<text x="1584.2" y="1133.3" font-size="20.3" text-anchor="middle">multimer-</text>
<path d="M1340.11 1486.36 L1340.11 1473.51 L1357.51 1473.51 L1357.51 1486.36" fill="none" stroke="#828282" stroke-width="1.4" stroke-linejoin="miter"/>
<line x1="1348.81" y1="1470.01" x2="1348.81" y2="1473.51" stroke="#86938c" stroke-width="1.3"/>
<line x1="1343.31" y1="1470.01" x2="1354.31" y2="1470.01" stroke="#86938c" stroke-width="1.3"/>
<path d="M1368.12 1486.36 L1368.12 1490.15 L1385.52 1490.15 L1385.52 1486.36" fill="none" stroke="#828282" stroke-width="1.4" stroke-linejoin="miter"/>
<line x1="1376.82" y1="1483.73" x2="1376.82" y2="1490.15" stroke="#86938c" stroke-width="1.3"/>
<line x1="1371.32" y1="1483.73" x2="1382.32" y2="1483.73" stroke="#86938c" stroke-width="1.3"/>
<path d="M1396.14 1486.36 L1396.14 1456 L1413.54 1456 L1413.54 1486.36" fill="none" stroke="#828282" stroke-width="1.4" stroke-linejoin="miter"/>
<line x1="1404.84" y1="1447.83" x2="1404.84" y2="1456" stroke="#86938c" stroke-width="1.3"/>
<line x1="1399.34" y1="1447.83" x2="1410.34" y2="1447.83" stroke="#86938c" stroke-width="1.3"/>
<path d="M1441.67 1486.36 L1441.67 1493.07 L1459.07 1493.07 L1459.07 1486.36" fill="none" stroke="#828282" stroke-width="1.4" stroke-linejoin="miter"/>
<path d="M1469.4 1486.36 L1469.4 1453.67 L1486.8 1453.67 L1486.8 1486.36" fill="none" stroke="#828282" stroke-width="1.4" stroke-linejoin="miter"/>
<line x1="1478.1" y1="1434.11" x2="1478.1" y2="1453.67" stroke="#86938c" stroke-width="1.3"/>
<line x1="1472.6" y1="1434.11" x2="1483.6" y2="1434.11" stroke="#86938c" stroke-width="1.3"/>
<line x1="1497.41" y1="1347.14" x2="1497.41" y2="1486.36" stroke="#86938c" stroke-width="1.4"/>
<line x1="1514.81" y1="1347.14" x2="1514.81" y2="1486.36" stroke="#86938c" stroke-width="1.4"/>
<path d="M1497.41 1320.58 L1497.41 1280.02 L1514.81 1280.02 L1514.81 1320.58" fill="none" stroke="#86938c" stroke-width="1.4" stroke-linejoin="miter"/>
<line x1="1506.11" y1="1254.92" x2="1506.11" y2="1280.02" stroke="#86938c" stroke-width="1.3"/>
<line x1="1500.61" y1="1254.92" x2="1511.61" y2="1254.92" stroke="#86938c" stroke-width="1.3"/>
<path d="M1542.94 1486.36 L1542.94 1474.97 L1560.34 1474.97 L1560.34 1486.36" fill="none" stroke="#828282" stroke-width="1.4" stroke-linejoin="miter"/>
<path d="M1571.25 1486.36 L1571.25 1497.74 L1588.65 1497.74 L1588.65 1486.36" fill="none" stroke="#828282" stroke-width="1.4" stroke-linejoin="miter"/>
<path d="M1598.69 1486.36 L1598.69 1456.59 L1616.09 1456.59 L1616.09 1486.36" fill="none" stroke="#828282" stroke-width="1.4" stroke-linejoin="miter"/>
<line x1="1607.39" y1="1449.58" x2="1607.39" y2="1456.59" stroke="#86938c" stroke-width="1.3"/>
<line x1="1601.89" y1="1449.58" x2="1612.89" y2="1449.58" stroke="#86938c" stroke-width="1.3"/>
<line x1="1428.19" y1="1140.22" x2="1428.19" y2="1520.21" stroke="#111" stroke-width="1.9" stroke-dasharray="4.8 2.4"/>
<line x1="1529.46" y1="1140.22" x2="1529.46" y2="1520.21" stroke="#111" stroke-width="1.9" stroke-dasharray="4.8 2.4"/>
<line x1="1330" y1="1138.62" x2="1330" y2="1320.58" stroke="#000" stroke-width="3.2"/>
<line x1="1321.3" y1="1320.58" x2="1338.7" y2="1320.58" stroke="#000" stroke-width="3.2"/>
<line x1="1330" y1="1347.14" x2="1330" y2="1521.81" stroke="#000" stroke-width="3.2"/>
<line x1="1321.3" y1="1347.14" x2="1338.7" y2="1347.14" stroke="#000" stroke-width="3.2"/>
<line x1="1317" y1="1520.21" x2="1625" y2="1520.21" stroke="#000" stroke-width="3.2"/>
<line x1="1317" y1="1486.36" x2="1625" y2="1486.36" stroke="#000" stroke-width="3.2"/>
<line x1="1313.5" y1="1140.22" x2="1330" y2="1140.22" stroke="#000" stroke-width="3.2"/>
<text x="1309" y="1148.72" font-size="23" text-anchor="end" font-weight="bold">2500</text>
<line x1="1313.5" y1="1180.5" x2="1330" y2="1180.5" stroke="#000" stroke-width="3.2"/>
<text x="1309" y="1189" font-size="23" text-anchor="end" font-weight="bold">2000</text>
<line x1="1313.5" y1="1220.77" x2="1330" y2="1220.77" stroke="#000" stroke-width="3.2"/>
<text x="1309" y="1229.27" font-size="23" text-anchor="end" font-weight="bold">1500</text>
<line x1="1313.5" y1="1260.75" x2="1330" y2="1260.75" stroke="#000" stroke-width="3.2"/>
<text x="1309" y="1269.25" font-size="23" text-anchor="end" font-weight="bold">1000</text>
<line x1="1313.5" y1="1300.74" x2="1330" y2="1300.74" stroke="#000" stroke-width="3.2"/>
<text x="1309" y="1309.24" font-size="23" text-anchor="end" font-weight="bold">500</text>
<line x1="1317" y1="1347.14" x2="1330" y2="1347.14" stroke="#000" stroke-width="3.2"/>
<text x="1312.7" y="1355.64" font-size="23" text-anchor="end" font-weight="bold">200</text>
<line x1="1317" y1="1381.87" x2="1330" y2="1381.87" stroke="#000" stroke-width="3.2"/>
<text x="1312.7" y="1390.37" font-size="23" text-anchor="end" font-weight="bold">150</text>
<line x1="1317" y1="1416.9" x2="1330" y2="1416.9" stroke="#000" stroke-width="3.2"/>
<text x="1312.7" y="1425.4" font-size="23" text-anchor="end" font-weight="bold">100</text>
<line x1="1317" y1="1451.63" x2="1330" y2="1451.63" stroke="#000" stroke-width="3.2"/>
<text x="1312.7" y="1460.13" font-size="23" text-anchor="end" font-weight="bold">50</text>
<line x1="1317" y1="1486.36" x2="1330" y2="1486.36" stroke="#000" stroke-width="3.2"/>
<text x="1312.7" y="1494.86" font-size="23" text-anchor="end" font-weight="bold">0</text>
<line x1="1317" y1="1520.21" x2="1330" y2="1520.21" stroke="#000" stroke-width="3.2"/>
<text x="1312.7" y="1528.71" font-size="23" text-anchor="end" font-weight="bold">-50</text>
<line x1="1348.81" y1="1520.21" x2="1348.81" y2="1527.71" stroke="#000" stroke-width="3.2"/>
<line x1="1376.82" y1="1520.21" x2="1376.82" y2="1527.71" stroke="#000" stroke-width="3.2"/>
<line x1="1404.84" y1="1520.21" x2="1404.84" y2="1527.71" stroke="#000" stroke-width="3.2"/>
<line x1="1450.37" y1="1520.21" x2="1450.37" y2="1527.71" stroke="#000" stroke-width="3.2"/>
<line x1="1478.1" y1="1520.21" x2="1478.1" y2="1527.71" stroke="#000" stroke-width="3.2"/>
<line x1="1506.11" y1="1520.21" x2="1506.11" y2="1527.71" stroke="#000" stroke-width="3.2"/>
<line x1="1551.64" y1="1520.21" x2="1551.64" y2="1527.71" stroke="#000" stroke-width="3.2"/>
<line x1="1579.95" y1="1520.21" x2="1579.95" y2="1527.71" stroke="#000" stroke-width="3.2"/>
<line x1="1607.39" y1="1520.21" x2="1607.39" y2="1527.71" stroke="#000" stroke-width="3.2"/>
<circle cx="1346.18" cy="1467.58" r="4.75" fill="#86938c"/>
<circle cx="1349.97" cy="1471.95" r="4.75" fill="#86938c"/>
<circle cx="1354.35" cy="1473.41" r="4.75" fill="#86938c"/>
<circle cx="1346.18" cy="1474.87" r="4.75" fill="#86938c"/>
<circle cx="1352.89" cy="1476.33" r="4.75" fill="#86938c"/>
<circle cx="1376.82" cy="1460.86" r="4.75" fill="#86938c"/>
<circle cx="1376.82" cy="1486.55" r="4.75" fill="#86938c"/>
<circle cx="1372.45" cy="1492.97" r="4.75" fill="#86938c"/>
<circle cx="1382.08" cy="1494.72" r="4.75" fill="#86938c"/>
<circle cx="1374.78" cy="1498.22" r="4.75" fill="#86938c"/>
<circle cx="1371.86" cy="1501.72" r="4.75" fill="#86938c"/>
<circle cx="1404.84" cy="1417.38" r="4.75" fill="#86938c"/>
<circle cx="1404.84" cy="1460.28" r="4.75" fill="#86938c"/>
<circle cx="1401.05" cy="1464.66" r="4.75" fill="#86938c"/>
<circle cx="1408.34" cy="1465.53" r="4.75" fill="#86938c"/>
<circle cx="1401.05" cy="1468.16" r="4.75" fill="#86938c"/>
<circle cx="1408.34" cy="1469.04" r="4.75" fill="#86938c"/>
<circle cx="1446.28" cy="1485.67" r="4.75" fill="#96154f"/>
<circle cx="1447.74" cy="1490.93" r="4.75" fill="#96154f"/>
<circle cx="1455.04" cy="1492.38" r="4.75" fill="#96154f"/>
<circle cx="1446.28" cy="1496.18" r="4.75" fill="#96154f"/>
<circle cx="1452.71" cy="1494.72" r="4.75" fill="#96154f"/>
<circle cx="1478.1" cy="1378.85" r="4.75" fill="#96154f"/>
<circle cx="1478.1" cy="1456.78" r="4.75" fill="#96154f"/>
<circle cx="1478.1" cy="1473.41" r="4.75" fill="#96154f"/>
<circle cx="1483.35" cy="1476.33" r="4.75" fill="#96154f"/>
<circle cx="1473.72" cy="1479.25" r="4.75" fill="#96154f"/>
<circle cx="1506.11" cy="1183.02" r="4.75" fill="#96154f"/>
<circle cx="1506.11" cy="1287.21" r="4.75" fill="#96154f"/>
<circle cx="1501.15" cy="1304.14" r="4.75" fill="#96154f"/>
<circle cx="1511.08" cy="1305.31" r="4.75" fill="#96154f"/>
<circle cx="1506.11" cy="1316.4" r="4.75" fill="#96154f"/>
<circle cx="1547.56" cy="1474.29" r="4.75" fill="#2196f3"/>
<circle cx="1551.64" cy="1473.41" r="4.75" fill="#2196f3"/>
<circle cx="1555.15" cy="1474.87" r="4.75" fill="#2196f3"/>
<circle cx="1558.06" cy="1476.33" r="4.75" fill="#2196f3"/>
<circle cx="1574.7" cy="1492.97" r="4.75" fill="#2196f3"/>
<circle cx="1579.95" cy="1492.97" r="4.75" fill="#2196f3"/>
<circle cx="1584.91" cy="1494.43" r="4.75" fill="#2196f3"/>
<circle cx="1577.62" cy="1505.52" r="4.75" fill="#2196f3"/>
<circle cx="1582" cy="1505.52" r="4.75" fill="#2196f3"/>
<circle cx="1607.39" cy="1433.14" r="4.75" fill="#2196f3"/>
<circle cx="1612.64" cy="1454.44" r="4.75" fill="#2196f3"/>
<circle cx="1602.43" cy="1459.41" r="4.75" fill="#2196f3"/>
<circle cx="1612.64" cy="1466.7" r="4.75" fill="#2196f3"/>
<circle cx="1602.43" cy="1469.04" r="4.75" fill="#2196f3"/>
<text transform="translate(1242.7,1322.7) rotate(-90)" font-size="24.7" text-anchor="middle">Mean Fluorescent Intensity (MFI)</text>
<text transform="translate(1353.81,1537.21) rotate(-45)" font-size="19" text-anchor="end">PD-1</text>
<text transform="translate(1381.82,1537.21) rotate(-45)" font-size="19" text-anchor="end">LAG-3</text>
<text transform="translate(1409.84,1537.21) rotate(-45)" font-size="19" text-anchor="end">TIM-3</text>
<text transform="translate(1455.37,1537.21) rotate(-45)" font-size="19" text-anchor="end">PD-1</text>
<text transform="translate(1483.1,1537.21) rotate(-45)" font-size="19" text-anchor="end">LAG-3</text>
<text transform="translate(1511.11,1537.21) rotate(-45)" font-size="19" text-anchor="end">TIM-3</text>
<text transform="translate(1556.64,1537.21) rotate(-45)" font-size="19" text-anchor="end">PD-1</text>
<text transform="translate(1584.95,1537.21) rotate(-45)" font-size="19" text-anchor="end">LAG-3</text>
<text transform="translate(1612.39,1537.21) rotate(-45)" font-size="19" text-anchor="end">TIM-3</text>
<text x="18" y="1707.8" font-size="45" font-weight="bold" fill="#222" stroke="#222">h</text>
<text x="421.6" y="1704.9" font-size="21.8" text-anchor="middle">Splenic CD4+ T cells</text>
<text x="423" y="1735.6" font-size="18" text-anchor="middle"><tspan font-size="21.5">% </tspan>IFNγ+ &amp; TNFα+ of CD4+ T cells</text>
<text x="147.5" y="1769.7" font-size="17.6" text-anchor="middle">0</text>
<text x="219.62" y="1769.7" font-size="17.6" text-anchor="middle">0.05</text>
<text x="291.75" y="1769.7" font-size="17.6" text-anchor="middle">0.10</text>
<text x="363.88" y="1769.7" font-size="17.6" text-anchor="middle">0.15</text>
<text x="436" y="1769.7" font-size="17.6" text-anchor="middle">0.20</text>
<text x="508.12" y="1769.7" font-size="17.6" text-anchor="middle">0.25</text>
<text x="580.25" y="1769.7" font-size="17.6" text-anchor="middle">0.30</text>
<text x="652.38" y="1769.7" font-size="17.6" text-anchor="middle">0.35</text>
<text x="724.5" y="1769.7" font-size="17.6" text-anchor="middle">0.40</text>
<defs><linearGradient id="gb" x1="0" x2="1" y1="0" y2="0"><stop offset="0" stop-color="#fff"/><stop offset="1" stop-color="#0a1482"/></linearGradient></defs>
<rect x="147.3" y="1786.2" width="577.2" height="21.5" fill="url(#gb)" stroke="#000" stroke-width="1.2"/>
<line x1="219.62" y1="1786.2" x2="219.62" y2="1791.2" stroke="#000" stroke-width="1.2"/>
<line x1="219.62" y1="1802.7" x2="219.62" y2="1807.7" stroke="#000" stroke-width="1.2"/>
<line x1="291.75" y1="1786.2" x2="291.75" y2="1791.2" stroke="#000" stroke-width="1.2"/>
<line x1="291.75" y1="1802.7" x2="291.75" y2="1807.7" stroke="#000" stroke-width="1.2"/>
<line x1="363.88" y1="1786.2" x2="363.88" y2="1791.2" stroke="#000" stroke-width="1.2"/>
<line x1="363.88" y1="1802.7" x2="363.88" y2="1807.7" stroke="#000" stroke-width="1.2"/>
<line x1="436" y1="1786.2" x2="436" y2="1791.2" stroke="#000" stroke-width="1.2"/>
<line x1="436" y1="1802.7" x2="436" y2="1807.7" stroke="#000" stroke-width="1.2"/>
<line x1="508.12" y1="1786.2" x2="508.12" y2="1791.2" stroke="#000" stroke-width="1.2"/>
<line x1="508.12" y1="1802.7" x2="508.12" y2="1807.7" stroke="#000" stroke-width="1.2"/>
<line x1="580.25" y1="1786.2" x2="580.25" y2="1791.2" stroke="#000" stroke-width="1.2"/>
<line x1="580.25" y1="1802.7" x2="580.25" y2="1807.7" stroke="#000" stroke-width="1.2"/>
<line x1="652.38" y1="1786.2" x2="652.38" y2="1791.2" stroke="#000" stroke-width="1.2"/>
<line x1="652.38" y1="1802.7" x2="652.38" y2="1807.7" stroke="#000" stroke-width="1.2"/>
<rect x="144.2" y="1813.2" width="31" height="29.9" fill="#fff" stroke="#000" stroke-width="1.2"/>
<line x1="144.2" y1="1813.2" x2="175.2" y2="1843.1" stroke="#000" stroke-width="1.5"/>
<line x1="144.2" y1="1843.1" x2="175.2" y2="1813.2" stroke="#000" stroke-width="1.5"/>
<rect x="181.6" y="1813.2" width="29.9" height="29.9" fill="#fff" stroke="#000" stroke-width="1.2"/>
<line x1="181.6" y1="1813.2" x2="211.5" y2="1843.1" stroke="#000" stroke-width="1.5"/>
<line x1="181.6" y1="1843.1" x2="211.5" y2="1813.2" stroke="#000" stroke-width="1.5"/>
<rect x="211.5" y="1813.2" width="29.9" height="29.9" fill="#fff" stroke="#000" stroke-width="1.2"/>
<line x1="211.5" y1="1813.2" x2="241.4" y2="1843.1" stroke="#000" stroke-width="1.5"/>
<line x1="211.5" y1="1843.1" x2="241.4" y2="1813.2" stroke="#000" stroke-width="1.5"/>
<rect x="241.4" y="1813.2" width="29.9" height="29.9" fill="#fff" stroke="#000" stroke-width="1.2"/>
<line x1="241.4" y1="1813.2" x2="271.3" y2="1843.1" stroke="#000" stroke-width="1.5"/>
<line x1="241.4" y1="1843.1" x2="271.3" y2="1813.2" stroke="#000" stroke-width="1.5"/>
<rect x="271.3" y="1813.2" width="29.9" height="29.9" fill="#fff" stroke="#000" stroke-width="1.2"/>
<line x1="271.3" y1="1813.2" x2="301.2" y2="1843.1" stroke="#000" stroke-width="1.5"/>
<line x1="271.3" y1="1843.1" x2="301.2" y2="1813.2" stroke="#000" stroke-width="1.5"/>
<rect x="301.2" y="1813.2" width="29.9" height="29.9" fill="#fff" stroke="#000" stroke-width="1.2"/>
<line x1="301.2" y1="1813.2" x2="331.1" y2="1843.1" stroke="#000" stroke-width="1.5"/>
<line x1="301.2" y1="1843.1" x2="331.1" y2="1813.2" stroke="#000" stroke-width="1.5"/>
<rect x="331.1" y="1813.2" width="29.9" height="29.9" fill="#fff" stroke="#000" stroke-width="1.2"/>
<line x1="331.1" y1="1813.2" x2="361" y2="1843.1" stroke="#000" stroke-width="1.5"/>
<line x1="331.1" y1="1843.1" x2="361" y2="1813.2" stroke="#000" stroke-width="1.5"/>
<rect x="361" y="1813.2" width="29.9" height="29.9" fill="#fff" stroke="#000" stroke-width="1.2"/>
<line x1="361" y1="1813.2" x2="390.9" y2="1843.1" stroke="#000" stroke-width="1.5"/>
<line x1="361" y1="1843.1" x2="390.9" y2="1813.2" stroke="#000" stroke-width="1.5"/>
<rect x="390.9" y="1813.2" width="29.9" height="29.9" fill="#fff" stroke="#000" stroke-width="1.2"/>
<line x1="390.9" y1="1813.2" x2="420.8" y2="1843.1" stroke="#000" stroke-width="1.5"/>
<line x1="390.9" y1="1843.1" x2="420.8" y2="1813.2" stroke="#000" stroke-width="1.5"/>
<rect x="420.8" y="1813.2" width="29.9" height="29.9" fill="#fff" stroke="#000" stroke-width="1.2"/>
<line x1="420.8" y1="1813.2" x2="450.7" y2="1843.1" stroke="#000" stroke-width="1.5"/>
<line x1="420.8" y1="1843.1" x2="450.7" y2="1813.2" stroke="#000" stroke-width="1.5"/>
<rect x="450.7" y="1813.2" width="29.9" height="29.9" fill="#fff" stroke="#000" stroke-width="1.2"/>
<line x1="450.7" y1="1813.2" x2="480.6" y2="1843.1" stroke="#000" stroke-width="1.5"/>
<line x1="450.7" y1="1843.1" x2="480.6" y2="1813.2" stroke="#000" stroke-width="1.5"/>
<rect x="480.6" y="1813.2" width="29.9" height="29.9" fill="#fff" stroke="#000" stroke-width="1.2"/>
<line x1="480.6" y1="1813.2" x2="510.5" y2="1843.1" stroke="#000" stroke-width="1.5"/>
<line x1="480.6" y1="1843.1" x2="510.5" y2="1813.2" stroke="#000" stroke-width="1.5"/>
<rect x="510.5" y="1813.2" width="29.9" height="29.9" fill="#fff" stroke="#000" stroke-width="1.2"/>
<line x1="510.5" y1="1813.2" x2="540.4" y2="1843.1" stroke="#000" stroke-width="1.5"/>
<line x1="510.5" y1="1843.1" x2="540.4" y2="1813.2" stroke="#000" stroke-width="1.5"/>
<rect x="540.4" y="1813.2" width="29.9" height="29.9" fill="#fff" stroke="#000" stroke-width="1.2"/>
<line x1="540.4" y1="1813.2" x2="570.3" y2="1843.1" stroke="#000" stroke-width="1.5"/>
<line x1="540.4" y1="1843.1" x2="570.3" y2="1813.2" stroke="#000" stroke-width="1.5"/>
<rect x="570.3" y="1813.2" width="29.9" height="29.9" fill="#b6b8da" stroke="#000" stroke-width="1.2"/>
<rect x="600.2" y="1813.2" width="29.9" height="29.9" fill="#f2f2f8" stroke="#000" stroke-width="1.2"/>
<rect x="630.1" y="1813.2" width="29.9" height="29.9" fill="#c2c4e0" stroke="#000" stroke-width="1.2"/>
<rect x="660" y="1813.2" width="29.9" height="29.9" fill="#f6f7fb" stroke="#000" stroke-width="1.2"/>
<rect x="689.9" y="1813.2" width="29.9" height="29.9" fill="#f8f8fb" stroke="#000" stroke-width="1.2"/>
<rect x="144.2" y="1843.1" width="31" height="29.8" fill="#656bb0" stroke="#000" stroke-width="1.2"/>
<rect x="181.6" y="1843.1" width="29.9" height="29.8" fill="#dddeee" stroke="#000" stroke-width="1.2"/>
<rect x="211.5" y="1843.1" width="29.9" height="29.8" fill="#f3f3f9" stroke="#000" stroke-width="1.2"/>
<rect x="241.4" y="1843.1" width="29.9" height="29.8" fill="#f5f6fa" stroke="#000" stroke-width="1.2"/>
<rect x="271.3" y="1843.1" width="29.9" height="29.8" fill="#eaebf4" stroke="#000" stroke-width="1.2"/>
<rect x="301.2" y="1843.1" width="29.9" height="29.8" fill="#f3f3f9" stroke="#000" stroke-width="1.2"/>
<rect x="331.1" y="1843.1" width="29.9" height="29.8" fill="#a4a8d1" stroke="#000" stroke-width="1.2"/>
<rect x="361" y="1843.1" width="29.9" height="29.8" fill="#f5f6fa" stroke="#000" stroke-width="1.2"/>
<rect x="390.9" y="1843.1" width="29.9" height="29.8" fill="#eff0f7" stroke="#000" stroke-width="1.2"/>
<rect x="420.8" y="1843.1" width="29.9" height="29.8" fill="#ffffff" stroke="#000" stroke-width="1.2"/>
<rect x="450.7" y="1843.1" width="29.9" height="29.8" fill="#e9eaf4" stroke="#000" stroke-width="1.2"/>
<rect x="480.6" y="1843.1" width="29.9" height="29.8" fill="#e2e3f0" stroke="#000" stroke-width="1.2"/>
<rect x="510.5" y="1843.1" width="29.9" height="29.8" fill="#f3f3f9" stroke="#000" stroke-width="1.2"/>
<rect x="540.4" y="1843.1" width="29.9" height="29.8" fill="#f6f7fb" stroke="#000" stroke-width="1.2"/>
<rect x="570.3" y="1843.1" width="29.9" height="29.8" fill="#fff" stroke="#000" stroke-width="1.2"/>
<line x1="570.3" y1="1843.1" x2="600.2" y2="1872.9" stroke="#000" stroke-width="1.5"/>
<line x1="570.3" y1="1872.9" x2="600.2" y2="1843.1" stroke="#000" stroke-width="1.5"/>
<rect x="600.2" y="1843.1" width="29.9" height="29.8" fill="#fff" stroke="#000" stroke-width="1.2"/>
<line x1="600.2" y1="1843.1" x2="630.1" y2="1872.9" stroke="#000" stroke-width="1.5"/>
<line x1="600.2" y1="1872.9" x2="630.1" y2="1843.1" stroke="#000" stroke-width="1.5"/>
<rect x="630.1" y="1843.1" width="29.9" height="29.8" fill="#fff" stroke="#000" stroke-width="1.2"/>
<line x1="630.1" y1="1843.1" x2="660" y2="1872.9" stroke="#000" stroke-width="1.5"/>
<line x1="630.1" y1="1872.9" x2="660" y2="1843.1" stroke="#000" stroke-width="1.5"/>
<rect x="660" y="1843.1" width="29.9" height="29.8" fill="#fff" stroke="#000" stroke-width="1.2"/>
<line x1="660" y1="1843.1" x2="689.9" y2="1872.9" stroke="#000" stroke-width="1.5"/>
<line x1="660" y1="1872.9" x2="689.9" y2="1843.1" stroke="#000" stroke-width="1.5"/>
<rect x="689.9" y="1843.1" width="29.9" height="29.8" fill="#fff" stroke="#000" stroke-width="1.2"/>
<line x1="689.9" y1="1843.1" x2="719.8" y2="1872.9" stroke="#000" stroke-width="1.5"/>
<line x1="689.9" y1="1872.9" x2="719.8" y2="1843.1" stroke="#000" stroke-width="1.5"/>
<rect x="144.2" y="1813.2" width="575.6" height="59.7" fill="none" stroke="#000" stroke-width="2"/>
<line x1="175.2" y1="1813.2" x2="175.2" y2="1872.9" stroke="#000" stroke-width="1.6"/>
<line x1="181.6" y1="1813.2" x2="181.6" y2="1872.9" stroke="#000" stroke-width="1.6"/>
<line x1="134.7" y1="1828.15" x2="144.2" y2="1828.15" stroke="#000" stroke-width="1.9"/>
<text x="126.7" y="1834.2" font-size="18.8" text-anchor="end" font-weight="bold">pB16F10-ctrl.</text>
<line x1="134.7" y1="1858" x2="144.2" y2="1858" stroke="#000" stroke-width="1.9"/>
<text x="126.7" y="1864.4" font-size="18.8" text-anchor="end" font-weight="bold">pB16F10-13</text>
<line x1="159.7" y1="1872.9" x2="159.7" y2="1882.7" stroke="#000" stroke-width="1.9"/>
<text transform="translate(165.2,1890.4) rotate(-45)" font-size="19.3" text-anchor="end" font-weight="bold">pB16F10-13 pool</text>
<line x1="196.55" y1="1872.9" x2="196.55" y2="1882.7" stroke="#000" stroke-width="1.9"/>
<text transform="translate(202.05,1890.4) rotate(-45)" font-size="19.3" text-anchor="end" font-weight="bold">B1</text>
<line x1="226.45" y1="1872.9" x2="226.45" y2="1882.7" stroke="#000" stroke-width="1.9"/>
<text transform="translate(231.95,1890.4) rotate(-45)" font-size="19.3" text-anchor="end" font-weight="bold">B2</text>
<line x1="256.35" y1="1872.9" x2="256.35" y2="1882.7" stroke="#000" stroke-width="1.9"/>
<text transform="translate(261.85,1890.4) rotate(-45)" font-size="19.3" text-anchor="end" font-weight="bold">B3</text>
<line x1="286.25" y1="1872.9" x2="286.25" y2="1882.7" stroke="#000" stroke-width="1.9"/>
<text transform="translate(291.75,1890.4) rotate(-45)" font-size="19.3" text-anchor="end" font-weight="bold">B4</text>
<line x1="316.15" y1="1872.9" x2="316.15" y2="1882.7" stroke="#000" stroke-width="1.9"/>
<text transform="translate(321.65,1890.4) rotate(-45)" font-size="19.3" text-anchor="end" font-weight="bold">B5</text>
<line x1="346.05" y1="1872.9" x2="346.05" y2="1882.7" stroke="#000" stroke-width="1.9"/>
<text transform="translate(351.55,1890.4) rotate(-45)" font-size="19.3" text-anchor="end" font-weight="bold">B6</text>
<line x1="375.95" y1="1872.9" x2="375.95" y2="1882.7" stroke="#000" stroke-width="1.9"/>
<text transform="translate(381.45,1890.4) rotate(-45)" font-size="19.3" text-anchor="end" font-weight="bold">B7</text>
<line x1="405.85" y1="1872.9" x2="405.85" y2="1882.7" stroke="#000" stroke-width="1.9"/>
<text transform="translate(411.35,1890.4) rotate(-45)" font-size="19.3" text-anchor="end" font-weight="bold">B8</text>
<line x1="435.75" y1="1872.9" x2="435.75" y2="1882.7" stroke="#000" stroke-width="1.9"/>
<text transform="translate(441.25,1890.4) rotate(-45)" font-size="19.3" text-anchor="end" font-weight="bold">B9</text>
<line x1="465.65" y1="1872.9" x2="465.65" y2="1882.7" stroke="#000" stroke-width="1.9"/>
<text transform="translate(471.15,1890.4) rotate(-45)" font-size="19.3" text-anchor="end" font-weight="bold">B10</text>
<line x1="495.55" y1="1872.9" x2="495.55" y2="1882.7" stroke="#000" stroke-width="1.9"/>
<text transform="translate(501.05,1890.4) rotate(-45)" font-size="19.3" text-anchor="end" font-weight="bold">B11</text>
<line x1="525.45" y1="1872.9" x2="525.45" y2="1882.7" stroke="#000" stroke-width="1.9"/>
<text transform="translate(530.95,1890.4) rotate(-45)" font-size="19.3" text-anchor="end" font-weight="bold">B12</text>
<line x1="555.35" y1="1872.9" x2="555.35" y2="1882.7" stroke="#000" stroke-width="1.9"/>
<text transform="translate(560.85,1890.4) rotate(-45)" font-size="19.3" text-anchor="end" font-weight="bold">B13</text>
<line x1="585.25" y1="1872.9" x2="585.25" y2="1882.7" stroke="#000" stroke-width="1.9"/>
<text transform="translate(590.75,1890.4) rotate(-45)" font-size="19.3" text-anchor="end" font-weight="bold">pB16F10-ctrl. pool</text>
<line x1="615.15" y1="1872.9" x2="615.15" y2="1882.7" stroke="#000" stroke-width="1.9"/>
<text transform="translate(620.65,1890.4) rotate(-45)" font-size="19.3" text-anchor="end" font-weight="bold">M27</text>
<line x1="645.05" y1="1872.9" x2="645.05" y2="1882.7" stroke="#000" stroke-width="1.9"/>
<text transform="translate(650.55,1890.4) rotate(-45)" font-size="19.3" text-anchor="end" font-weight="bold">M30</text>
<line x1="674.95" y1="1872.9" x2="674.95" y2="1882.7" stroke="#000" stroke-width="1.9"/>
<text transform="translate(680.45,1890.4) rotate(-45)" font-size="19.3" text-anchor="end" font-weight="bold">M33</text>
<line x1="704.85" y1="1872.9" x2="704.85" y2="1882.7" stroke="#000" stroke-width="1.9"/>
<text transform="translate(710.35,1890.4) rotate(-45)" font-size="19.3" text-anchor="end" font-weight="bold">Trp2</text>
<text x="433.9" y="2050.6" font-size="21.9" text-anchor="middle">Splenic CD8+ T cells</text>
<text x="434.8" y="2075.6" font-size="18.1" text-anchor="middle">% IFNγ+ &amp; TNFα+ of CD8+ T cells</text>
<text x="146.5" y="2112" font-size="20.7" text-anchor="middle"></text>
<text x="232.5" y="2112" font-size="20.7" text-anchor="middle">0.2</text>
<text x="322.8" y="2112" font-size="20.7" text-anchor="middle">0.4</text>
<text x="413.1" y="2112" font-size="20.7" text-anchor="middle">0.6</text>
<text x="503.4" y="2112" font-size="20.7" text-anchor="middle">0.8</text>
<text x="593.6" y="2112" font-size="20.7" text-anchor="middle">1.0</text>
<text x="683.9" y="2112" font-size="20.7" text-anchor="middle">1.2</text>
<defs><linearGradient id="gr" x1="0" x2="1" y1="0" y2="0"><stop offset="0" stop-color="#fff"/><stop offset="1" stop-color="#d3281a"/></linearGradient></defs>
<rect x="146.5" y="2130.9" width="578" height="20.3" fill="url(#gr)" stroke="#000" stroke-width="1.2"/>
<line x1="232.5" y1="2130.9" x2="232.5" y2="2135.9" stroke="#000" stroke-width="1.2"/>
<line x1="232.5" y1="2146.2" x2="232.5" y2="2151.2" stroke="#000" stroke-width="1.2"/>
<line x1="322.8" y1="2130.9" x2="322.8" y2="2135.9" stroke="#000" stroke-width="1.2"/>
<line x1="322.8" y1="2146.2" x2="322.8" y2="2151.2" stroke="#000" stroke-width="1.2"/>
<line x1="413.1" y1="2130.9" x2="413.1" y2="2135.9" stroke="#000" stroke-width="1.2"/>
<line x1="413.1" y1="2146.2" x2="413.1" y2="2151.2" stroke="#000" stroke-width="1.2"/>
<line x1="503.4" y1="2130.9" x2="503.4" y2="2135.9" stroke="#000" stroke-width="1.2"/>
<line x1="503.4" y1="2146.2" x2="503.4" y2="2151.2" stroke="#000" stroke-width="1.2"/>
<line x1="593.6" y1="2130.9" x2="593.6" y2="2135.9" stroke="#000" stroke-width="1.2"/>
<line x1="593.6" y1="2146.2" x2="593.6" y2="2151.2" stroke="#000" stroke-width="1.2"/>
<line x1="683.9" y1="2130.9" x2="683.9" y2="2135.9" stroke="#000" stroke-width="1.2"/>
<line x1="683.9" y1="2146.2" x2="683.9" y2="2151.2" stroke="#000" stroke-width="1.2"/>
<rect x="144.2" y="2155.7" width="31" height="30.3" fill="#fff" stroke="#000" stroke-width="1.2"/>
<line x1="144.2" y1="2155.7" x2="175.2" y2="2186" stroke="#000" stroke-width="1.5"/>
<line x1="144.2" y1="2186" x2="175.2" y2="2155.7" stroke="#000" stroke-width="1.5"/>
<rect x="181.6" y="2155.7" width="30.08" height="30.3" fill="#fff" stroke="#000" stroke-width="1.2"/>
<line x1="181.6" y1="2155.7" x2="211.68" y2="2186" stroke="#000" stroke-width="1.5"/>
<line x1="181.6" y1="2186" x2="211.68" y2="2155.7" stroke="#000" stroke-width="1.5"/>
<rect x="211.68" y="2155.7" width="30.08" height="30.3" fill="#fff" stroke="#000" stroke-width="1.2"/>
<line x1="211.68" y1="2155.7" x2="241.77" y2="2186" stroke="#000" stroke-width="1.5"/>
<line x1="211.68" y1="2186" x2="241.77" y2="2155.7" stroke="#000" stroke-width="1.5"/>
<rect x="241.77" y="2155.7" width="30.08" height="30.3" fill="#fff" stroke="#000" stroke-width="1.2"/>
<line x1="241.77" y1="2155.7" x2="271.85" y2="2186" stroke="#000" stroke-width="1.5"/>
<line x1="241.77" y1="2186" x2="271.85" y2="2155.7" stroke="#000" stroke-width="1.5"/>
<rect x="271.85" y="2155.7" width="30.08" height="30.3" fill="#fff" stroke="#000" stroke-width="1.2"/>
<line x1="271.85" y1="2155.7" x2="301.93" y2="2186" stroke="#000" stroke-width="1.5"/>
<line x1="271.85" y1="2186" x2="301.93" y2="2155.7" stroke="#000" stroke-width="1.5"/>
<rect x="301.93" y="2155.7" width="30.08" height="30.3" fill="#fff" stroke="#000" stroke-width="1.2"/>
<line x1="301.93" y1="2155.7" x2="332.02" y2="2186" stroke="#000" stroke-width="1.5"/>
<line x1="301.93" y1="2186" x2="332.02" y2="2155.7" stroke="#000" stroke-width="1.5"/>
<rect x="332.02" y="2155.7" width="30.08" height="30.3" fill="#fff" stroke="#000" stroke-width="1.2"/>
<line x1="332.02" y1="2155.7" x2="362.1" y2="2186" stroke="#000" stroke-width="1.5"/>
<line x1="332.02" y1="2186" x2="362.1" y2="2155.7" stroke="#000" stroke-width="1.5"/>
<rect x="362.1" y="2155.7" width="30.08" height="30.3" fill="#fff" stroke="#000" stroke-width="1.2"/>
<line x1="362.1" y1="2155.7" x2="392.18" y2="2186" stroke="#000" stroke-width="1.5"/>
<line x1="362.1" y1="2186" x2="392.18" y2="2155.7" stroke="#000" stroke-width="1.5"/>
<rect x="392.18" y="2155.7" width="30.08" height="30.3" fill="#fff" stroke="#000" stroke-width="1.2"/>
<line x1="392.18" y1="2155.7" x2="422.27" y2="2186" stroke="#000" stroke-width="1.5"/>
<line x1="392.18" y1="2186" x2="422.27" y2="2155.7" stroke="#000" stroke-width="1.5"/>
<rect x="422.27" y="2155.7" width="30.08" height="30.3" fill="#fff" stroke="#000" stroke-width="1.2"/>
<line x1="422.27" y1="2155.7" x2="452.35" y2="2186" stroke="#000" stroke-width="1.5"/>
<line x1="422.27" y1="2186" x2="452.35" y2="2155.7" stroke="#000" stroke-width="1.5"/>
<rect x="452.35" y="2155.7" width="30.08" height="30.3" fill="#fff" stroke="#000" stroke-width="1.2"/>
<line x1="452.35" y1="2155.7" x2="482.43" y2="2186" stroke="#000" stroke-width="1.5"/>
<line x1="452.35" y1="2186" x2="482.43" y2="2155.7" stroke="#000" stroke-width="1.5"/>
<rect x="482.43" y="2155.7" width="30.08" height="30.3" fill="#fff" stroke="#000" stroke-width="1.2"/>
<line x1="482.43" y1="2155.7" x2="512.52" y2="2186" stroke="#000" stroke-width="1.5"/>
<line x1="482.43" y1="2186" x2="512.52" y2="2155.7" stroke="#000" stroke-width="1.5"/>
<rect x="512.52" y="2155.7" width="30.08" height="30.3" fill="#fff" stroke="#000" stroke-width="1.2"/>
<line x1="512.52" y1="2155.7" x2="542.6" y2="2186" stroke="#000" stroke-width="1.5"/>
<line x1="512.52" y1="2186" x2="542.6" y2="2155.7" stroke="#000" stroke-width="1.5"/>
<rect x="542.6" y="2155.7" width="30.08" height="30.3" fill="#fff" stroke="#000" stroke-width="1.2"/>
<line x1="542.6" y1="2155.7" x2="572.68" y2="2186" stroke="#000" stroke-width="1.5"/>
<line x1="542.6" y1="2186" x2="572.68" y2="2155.7" stroke="#000" stroke-width="1.5"/>
<rect x="572.68" y="2155.7" width="30.08" height="30.3" fill="#dc5348" stroke="#000" stroke-width="1.2"/>
<rect x="602.77" y="2155.7" width="30.08" height="30.3" fill="#e78981" stroke="#000" stroke-width="1.2"/>
<rect x="632.85" y="2155.7" width="30.08" height="30.3" fill="#fdf6f6" stroke="#000" stroke-width="1.2"/>
<rect x="662.93" y="2155.7" width="30.08" height="30.3" fill="#f3c5c1" stroke="#000" stroke-width="1.2"/>
<rect x="693.02" y="2155.7" width="30.08" height="30.3" fill="#f8dad8" stroke="#000" stroke-width="1.2"/>
<rect x="144.2" y="2186" width="31" height="30.2" fill="#d32a1c" stroke="#000" stroke-width="1.2"/>
<rect x="181.6" y="2186" width="30.08" height="30.2" fill="#fefbfa" stroke="#000" stroke-width="1.2"/>
<rect x="211.68" y="2186" width="30.08" height="30.2" fill="#fefcfc" stroke="#000" stroke-width="1.2"/>
<rect x="241.77" y="2186" width="30.08" height="30.2" fill="#fefbfa" stroke="#000" stroke-width="1.2"/>
<rect x="271.85" y="2186" width="30.08" height="30.2" fill="#fef9f8" stroke="#000" stroke-width="1.2"/>
<rect x="301.93" y="2186" width="30.08" height="30.2" fill="#fcf2f1" stroke="#000" stroke-width="1.2"/>
<rect x="332.02" y="2186" width="30.08" height="30.2" fill="#ffffff" stroke="#000" stroke-width="1.2"/>
<rect x="362.1" y="2186" width="30.08" height="30.2" fill="#da483c" stroke="#000" stroke-width="1.2"/>
<rect x="392.18" y="2186" width="30.08" height="30.2" fill="#fdf4f4" stroke="#000" stroke-width="1.2"/>
<rect x="422.27" y="2186" width="30.08" height="30.2" fill="#fefcfc" stroke="#000" stroke-width="1.2"/>
<rect x="452.35" y="2186" width="30.08" height="30.2" fill="#fefcfc" stroke="#000" stroke-width="1.2"/>
<rect x="482.43" y="2186" width="30.08" height="30.2" fill="#fefcfc" stroke="#000" stroke-width="1.2"/>
<rect x="512.52" y="2186" width="30.08" height="30.2" fill="#fefcfc" stroke="#000" stroke-width="1.2"/>
<rect x="542.6" y="2186" width="30.08" height="30.2" fill="#fefcfc" stroke="#000" stroke-width="1.2"/>
<rect x="572.68" y="2186" width="30.08" height="30.2" fill="#fff" stroke="#000" stroke-width="1.2"/>
<line x1="572.68" y1="2186" x2="602.77" y2="2216.2" stroke="#000" stroke-width="1.5"/>
<line x1="572.68" y1="2216.2" x2="602.77" y2="2186" stroke="#000" stroke-width="1.5"/>
<rect x="602.77" y="2186" width="30.08" height="30.2" fill="#fff" stroke="#000" stroke-width="1.2"/>
<line x1="602.77" y1="2186" x2="632.85" y2="2216.2" stroke="#000" stroke-width="1.5"/>
<line x1="602.77" y1="2216.2" x2="632.85" y2="2186" stroke="#000" stroke-width="1.5"/>
<rect x="632.85" y="2186" width="30.08" height="30.2" fill="#fff" stroke="#000" stroke-width="1.2"/>
<line x1="632.85" y1="2186" x2="662.93" y2="2216.2" stroke="#000" stroke-width="1.5"/>
<line x1="632.85" y1="2216.2" x2="662.93" y2="2186" stroke="#000" stroke-width="1.5"/>
<rect x="662.93" y="2186" width="30.08" height="30.2" fill="#fff" stroke="#000" stroke-width="1.2"/>
<line x1="662.93" y1="2186" x2="693.02" y2="2216.2" stroke="#000" stroke-width="1.5"/>
<line x1="662.93" y1="2216.2" x2="693.02" y2="2186" stroke="#000" stroke-width="1.5"/>
<rect x="693.02" y="2186" width="30.08" height="30.2" fill="#fff" stroke="#000" stroke-width="1.2"/>
<line x1="693.02" y1="2186" x2="723.1" y2="2216.2" stroke="#000" stroke-width="1.5"/>
<line x1="693.02" y1="2216.2" x2="723.1" y2="2186" stroke="#000" stroke-width="1.5"/>
<rect x="144.2" y="2155.7" width="578.9" height="60.5" fill="none" stroke="#000" stroke-width="2"/>
<line x1="175.2" y1="2155.7" x2="175.2" y2="2216.2" stroke="#000" stroke-width="1.6"/>
<line x1="181.6" y1="2155.7" x2="181.6" y2="2216.2" stroke="#000" stroke-width="1.6"/>
<line x1="134.7" y1="2170.85" x2="144.2" y2="2170.85" stroke="#000" stroke-width="1.3"/>
<text x="119.1" y="2175.3" font-size="18.8" text-anchor="end" font-weight="bold">pB16F10-ctrl.</text>
<line x1="134.7" y1="2201.1" x2="144.2" y2="2201.1" stroke="#000" stroke-width="1.3"/>
<text x="119.1" y="2205.8" font-size="18.8" text-anchor="end" font-weight="bold">pB16F10-13</text>
<line x1="159.7" y1="2216.2" x2="159.7" y2="2219.7" stroke="#000" stroke-width="1.2"/>
<text transform="translate(163.9,2232.7) rotate(-45)" font-size="18.8" text-anchor="end" font-weight="bold">pB16F10-13 pool</text>
<line x1="196.64" y1="2216.2" x2="196.64" y2="2219.7" stroke="#000" stroke-width="1.2"/>
<text transform="translate(200.84,2232.7) rotate(-45)" font-size="18.8" text-anchor="end" font-weight="bold">B1</text>
<line x1="226.72" y1="2216.2" x2="226.72" y2="2219.7" stroke="#000" stroke-width="1.2"/>
<text transform="translate(230.92,2232.7) rotate(-45)" font-size="18.8" text-anchor="end" font-weight="bold">B2</text>
<line x1="256.81" y1="2216.2" x2="256.81" y2="2219.7" stroke="#000" stroke-width="1.2"/>
<text transform="translate(261.01,2232.7) rotate(-45)" font-size="18.8" text-anchor="end" font-weight="bold">B3</text>
<line x1="286.89" y1="2216.2" x2="286.89" y2="2219.7" stroke="#000" stroke-width="1.2"/>
<text transform="translate(291.09,2232.7) rotate(-45)" font-size="18.8" text-anchor="end" font-weight="bold">B4</text>
<line x1="316.98" y1="2216.2" x2="316.98" y2="2219.7" stroke="#000" stroke-width="1.2"/>
<text transform="translate(321.18,2232.7) rotate(-45)" font-size="18.8" text-anchor="end" font-weight="bold">B5</text>
<line x1="347.06" y1="2216.2" x2="347.06" y2="2219.7" stroke="#000" stroke-width="1.2"/>
<text transform="translate(351.26,2232.7) rotate(-45)" font-size="18.8" text-anchor="end" font-weight="bold">B6</text>
<line x1="377.14" y1="2216.2" x2="377.14" y2="2219.7" stroke="#000" stroke-width="1.2"/>
<text transform="translate(381.34,2232.7) rotate(-45)" font-size="18.8" text-anchor="end" font-weight="bold">B7</text>
<line x1="407.22" y1="2216.2" x2="407.22" y2="2219.7" stroke="#000" stroke-width="1.2"/>
<text transform="translate(411.42,2232.7) rotate(-45)" font-size="18.8" text-anchor="end" font-weight="bold">B8</text>
<line x1="437.31" y1="2216.2" x2="437.31" y2="2219.7" stroke="#000" stroke-width="1.2"/>
<text transform="translate(441.51,2232.7) rotate(-45)" font-size="18.8" text-anchor="end" font-weight="bold">B9</text>
<line x1="467.39" y1="2216.2" x2="467.39" y2="2219.7" stroke="#000" stroke-width="1.2"/>
<text transform="translate(471.59,2232.7) rotate(-45)" font-size="18.8" text-anchor="end" font-weight="bold">B10</text>
<line x1="497.47" y1="2216.2" x2="497.47" y2="2219.7" stroke="#000" stroke-width="1.2"/>
<text transform="translate(501.67,2232.7) rotate(-45)" font-size="18.8" text-anchor="end" font-weight="bold">B11</text>
<line x1="527.56" y1="2216.2" x2="527.56" y2="2219.7" stroke="#000" stroke-width="1.2"/>
<text transform="translate(531.76,2232.7) rotate(-45)" font-size="18.8" text-anchor="end" font-weight="bold">B12</text>
<line x1="557.64" y1="2216.2" x2="557.64" y2="2219.7" stroke="#000" stroke-width="1.2"/>
<text transform="translate(561.84,2232.7) rotate(-45)" font-size="18.8" text-anchor="end" font-weight="bold">B13</text>
<line x1="587.72" y1="2216.2" x2="587.72" y2="2219.7" stroke="#000" stroke-width="1.2"/>
<text transform="translate(591.92,2232.7) rotate(-45)" font-size="18.8" text-anchor="end" font-weight="bold">pB16F10-ctrl. pool</text>
<line x1="617.81" y1="2216.2" x2="617.81" y2="2219.7" stroke="#000" stroke-width="1.2"/>
<text transform="translate(622.01,2232.7) rotate(-45)" font-size="18.8" text-anchor="end" font-weight="bold">M27</text>
<line x1="647.89" y1="2216.2" x2="647.89" y2="2219.7" stroke="#000" stroke-width="1.2"/>
<text transform="translate(652.09,2232.7) rotate(-45)" font-size="18.8" text-anchor="end" font-weight="bold">M30</text>
<line x1="677.97" y1="2216.2" x2="677.97" y2="2219.7" stroke="#000" stroke-width="1.2"/>
<text transform="translate(682.17,2232.7) rotate(-45)" font-size="18.8" text-anchor="end" font-weight="bold">M33</text>
<line x1="708.06" y1="2216.2" x2="708.06" y2="2219.7" stroke="#000" stroke-width="1.2"/>
<text transform="translate(712.26,2232.7) rotate(-45)" font-size="18.8" text-anchor="end" font-weight="bold">Trp2</text>
<text x="829.5" y="1707.7" font-size="45" font-weight="bold" fill="#222" stroke="#222">i</text>
<text x="1052.9" y="1736.9" font-size="20.3" text-anchor="middle">Intratumoral NK cells</text>
<path d="M946.2 2166.5 L946.2 2085.1 L997.6 2085.1 L997.6 2166.5" fill="none" stroke="#828282" stroke-width="1.3" stroke-linejoin="miter"/>
<path d="M1024.8 2166.5 L1024.8 1952.2 L1075.5 1952.2 L1075.5 2166.5" fill="none" stroke="#828282" stroke-width="1.3" stroke-linejoin="miter"/>
<path d="M1103 2166.5 L1103 1954.3 L1154.1 1954.3 L1154.1 2166.5" fill="none" stroke="#828282" stroke-width="1.3" stroke-linejoin="miter"/>
<line x1="971.9" y1="2061" x2="971.9" y2="2108.1" stroke="#8c8c8c" stroke-width="1.4"/>
<line x1="958.3" y1="2061" x2="985.5" y2="2061" stroke="#8c8c8c" stroke-width="1.4"/>
<line x1="958.3" y1="2108.1" x2="985.5" y2="2108.1" stroke="#8c8c8c" stroke-width="1.4"/>
<line x1="1050.1" y1="1844" x2="1050.1" y2="2059.5" stroke="#8c8c8c" stroke-width="1.4"/>
<line x1="1036.5" y1="1844" x2="1063.7" y2="1844" stroke="#8c8c8c" stroke-width="1.4"/>
<line x1="1036.5" y1="2059.5" x2="1063.7" y2="2059.5" stroke="#8c8c8c" stroke-width="1.4"/>
<line x1="1128.4" y1="1907.2" x2="1128.4" y2="2000.8" stroke="#8c8c8c" stroke-width="1.4"/>
<line x1="1114.8" y1="1907.2" x2="1142" y2="1907.2" stroke="#8c8c8c" stroke-width="1.4"/>
<line x1="1114.8" y1="2000.8" x2="1142" y2="2000.8" stroke="#8c8c8c" stroke-width="1.4"/>
<line x1="919.6" y1="1783.78" x2="919.6" y2="2167.93" stroke="#000" stroke-width="2.85"/>
<line x1="905.6" y1="2166.5" x2="1180.4" y2="2166.5" stroke="#000" stroke-width="2.85"/>
<line x1="905.6" y1="2166.5" x2="919.6" y2="2166.5" stroke="#000" stroke-width="2.85"/>
<text x="903.5" y="2174.5" font-size="23" text-anchor="end" font-weight="bold">0</text>
<line x1="905.6" y1="2071.18" x2="919.6" y2="2071.18" stroke="#000" stroke-width="2.85"/>
<text x="903.5" y="2079.18" font-size="23" text-anchor="end" font-weight="bold">1</text>
<line x1="905.6" y1="1975.85" x2="919.6" y2="1975.85" stroke="#000" stroke-width="2.85"/>
<text x="903.5" y="1983.85" font-size="23" text-anchor="end" font-weight="bold">2</text>
<line x1="905.6" y1="1880.53" x2="919.6" y2="1880.53" stroke="#000" stroke-width="2.85"/>
<text x="903.5" y="1888.53" font-size="23" text-anchor="end" font-weight="bold">3</text>
<line x1="905.6" y1="1785.2" x2="919.6" y2="1785.2" stroke="#000" stroke-width="2.85"/>
<text x="903.5" y="1793.2" font-size="23" text-anchor="end" font-weight="bold">4</text>
<line x1="971.9" y1="2166.5" x2="971.9" y2="2180" stroke="#000" stroke-width="2.85"/>
<line x1="1050.1" y1="2166.5" x2="1050.1" y2="2180" stroke="#000" stroke-width="2.85"/>
<line x1="1128.4" y1="2166.5" x2="1128.4" y2="2180" stroke="#000" stroke-width="2.85"/>
<circle cx="962.5" cy="2069.43" r="4.75" fill="#86938c"/>
<circle cx="981.54" cy="2063.38" r="4.75" fill="#86938c"/>
<circle cx="971.87" cy="2090.58" r="4.75" fill="#86938c"/>
<circle cx="971.87" cy="2114.75" r="4.75" fill="#86938c"/>
<circle cx="1050.13" cy="1850.06" r="4.75" fill="#96154f"/>
<circle cx="1050.13" cy="1873.93" r="4.75" fill="#96154f"/>
<circle cx="1050.13" cy="2010.2" r="4.75" fill="#96154f"/>
<circle cx="1050.13" cy="2073.66" r="4.75" fill="#96154f"/>
<circle cx="1128.39" cy="1901.12" r="4.75" fill="#009352"/>
<circle cx="1128.39" cy="1940.71" r="4.75" fill="#009352"/>
<circle cx="1128.39" cy="1960.35" r="4.75" fill="#009352"/>
<circle cx="1128.39" cy="2013.53" r="4.75" fill="#009352"/>
<path d="M971.9 1801.4 L971.9 1783.9 L1128.4 1783.9 L1128.4 1801.4" fill="none" stroke="#222" stroke-width="1" stroke-linejoin="miter"/>
<text x="1050" y="1769.4" font-size="16.5" text-anchor="middle">ns</text>
<path d="M971.9 1832.2 L971.9 1814.4 L1050.1 1814.4 L1050.1 1834.6" fill="none" stroke="#222" stroke-width="1" stroke-linejoin="miter"/>
<text x="1011.3" y="1799.9" font-size="16.5" text-anchor="middle">ns</text>
<text transform="translate(857,1962.2) rotate(-90)" font-size="24.6" text-anchor="middle">% NK1.1+ of CD45+ cells</text>
<text transform="translate(977.9,2200.3) rotate(-45)" font-size="21.6" text-anchor="end">Mock</text>
<text transform="translate(1056.1,2200.3) rotate(-45)" font-size="21.6" text-anchor="end">pB16F10-13</text>
<text transform="translate(1134.4,2200.3) rotate(-45)" font-size="21.6" text-anchor="end">pB16F10-ctrl.</text>
<text x="1216.5" y="1707.7" font-size="45" font-weight="bold" fill="#222" stroke="#222">j</text>
<text x="1478.2" y="1737" font-size="20.4" text-anchor="middle">Intratumoral CD4+ FoxP3+ cells</text>
<path d="M1373.9 2166.8 L1373.9 2040.4 L1425.6 2040.4 L1425.6 2166.8" fill="none" stroke="#828282" stroke-width="1.3" stroke-linejoin="miter"/>
<path d="M1452.5 2166.8 L1452.5 1912.2 L1503.6 1912.2 L1503.6 2166.8" fill="none" stroke="#828282" stroke-width="1.3" stroke-linejoin="miter"/>
<path d="M1530.8 2166.8 L1530.8 1965.4 L1582.5 1965.4 L1582.5 2166.8" fill="none" stroke="#828282" stroke-width="1.3" stroke-linejoin="miter"/>
<line x1="1399.6" y1="2015.3" x2="1399.6" y2="2064.6" stroke="#8c8c8c" stroke-width="1.4"/>
<line x1="1386" y1="2015.3" x2="1413.2" y2="2015.3" stroke="#8c8c8c" stroke-width="1.4"/>
<line x1="1386" y1="2064.6" x2="1413.2" y2="2064.6" stroke="#8c8c8c" stroke-width="1.4"/>
<line x1="1478.2" y1="1888.9" x2="1478.2" y2="1934.5" stroke="#8c8c8c" stroke-width="1.4"/>
<line x1="1464.6" y1="1888.9" x2="1491.8" y2="1888.9" stroke="#8c8c8c" stroke-width="1.4"/>
<line x1="1464.6" y1="1934.5" x2="1491.8" y2="1934.5" stroke="#8c8c8c" stroke-width="1.4"/>
<line x1="1556.8" y1="1883.7" x2="1556.8" y2="2046.4" stroke="#8c8c8c" stroke-width="1.4"/>
<line x1="1543.2" y1="1883.7" x2="1570.4" y2="1883.7" stroke="#8c8c8c" stroke-width="1.4"/>
<line x1="1543.2" y1="2046.4" x2="1570.4" y2="2046.4" stroke="#8c8c8c" stroke-width="1.4"/>
<line x1="1347.3" y1="1783.28" x2="1347.3" y2="2168.23" stroke="#000" stroke-width="2.85"/>
<line x1="1333.3" y1="2166.8" x2="1608.8" y2="2166.8" stroke="#000" stroke-width="2.85"/>
<line x1="1333.3" y1="2166.8" x2="1347.3" y2="2166.8" stroke="#000" stroke-width="2.85"/>
<text x="1331.2" y="2174.8" font-size="23" text-anchor="end" font-weight="bold">0</text>
<line x1="1333.3" y1="2039.43" x2="1347.3" y2="2039.43" stroke="#000" stroke-width="2.85"/>
<text x="1331.2" y="2047.43" font-size="23" text-anchor="end" font-weight="bold">15</text>
<line x1="1333.3" y1="1912.07" x2="1347.3" y2="1912.07" stroke="#000" stroke-width="2.85"/>
<text x="1331.2" y="1920.07" font-size="23" text-anchor="end" font-weight="bold">30</text>
<line x1="1333.3" y1="1784.7" x2="1347.3" y2="1784.7" stroke="#000" stroke-width="2.85"/>
<text x="1331.2" y="1792.7" font-size="23" text-anchor="end" font-weight="bold">45</text>
<line x1="1399.6" y1="2166.8" x2="1399.6" y2="2180.3" stroke="#000" stroke-width="2.85"/>
<line x1="1478.2" y1="2166.8" x2="1478.2" y2="2180.3" stroke="#000" stroke-width="2.85"/>
<line x1="1556.8" y1="2166.8" x2="1556.8" y2="2180.3" stroke="#000" stroke-width="2.85"/>
<circle cx="1399.56" cy="2009.83" r="4.75" fill="#86938c"/>
<circle cx="1399.56" cy="2031.3" r="4.75" fill="#86938c"/>
<circle cx="1399.56" cy="2054.28" r="4.75" fill="#86938c"/>
<circle cx="1399.56" cy="2064.56" r="4.75" fill="#86938c"/>
<circle cx="1478.17" cy="1885.86" r="4.75" fill="#96154f"/>
<circle cx="1478.17" cy="1900.38" r="4.75" fill="#96154f"/>
<circle cx="1487.24" cy="1927.29" r="4.75" fill="#96154f"/>
<circle cx="1469.1" cy="1934.85" r="4.75" fill="#96154f"/>
<circle cx="1556.79" cy="1863.19" r="4.75" fill="#009352"/>
<circle cx="1556.79" cy="1962.06" r="4.75" fill="#009352"/>
<circle cx="1556.79" cy="1972.94" r="4.75" fill="#009352"/>
<circle cx="1556.79" cy="2062.14" r="4.75" fill="#009352"/>
<path d="M1399.6 1821.8 L1399.6 1804.2 L1556.8 1804.2 L1556.8 1821.8" fill="none" stroke="#000" stroke-width="1.5" stroke-linejoin="miter"/>
<text x="1478.2" y="1789.1" font-size="16.5" text-anchor="middle">ns</text>
<path d="M1399.6 1872.3 L1399.6 1853.8 L1478.2 1853.8 L1478.2 1872.3" fill="none" stroke="#000" stroke-width="1.5" stroke-linejoin="miter"/>
<text x="1439" y="1849.7" font-size="23.5" font-weight="bold" text-anchor="middle" style="font-family:'DejaVu Sans','Liberation Sans',sans-serif;stroke-width:0.6px" letter-spacing="0.2">*</text>
<text transform="translate(1284.7,1974.5) rotate(-90)" font-size="24.4" text-anchor="middle">% FoxP3+ of CD4+ cells</text>
<text transform="translate(1405.6,2200.3) rotate(-45)" font-size="21.6" text-anchor="end">Mock</text>
<text transform="translate(1484.2,2200.3) rotate(-45)" font-size="21.6" text-anchor="end">pB16F10-13</text>
<text transform="translate(1562.8,2200.3) rotate(-45)" font-size="21.6" text-anchor="end">pB16F10-ctrl.</text>
</svg>
</body></html>
